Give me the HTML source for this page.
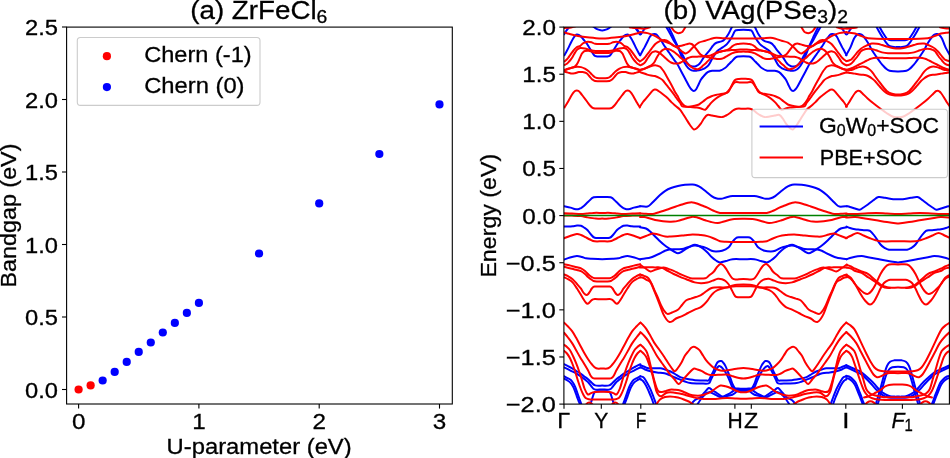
<!DOCTYPE html>
<html><head><meta charset="utf-8"><style>
html,body{margin:0;padding:0;background:#fff;width:950px;height:458px;overflow:hidden}
svg{display:block;will-change:transform}
text{font-family:"Liberation Sans",sans-serif;fill:#000;stroke:#000;stroke-width:0.3px}
</style></head><body>
<svg width="950" height="458" viewBox="0 0 950 458">
<rect width="950" height="458" fill="#fff"/>
<rect x="66.6" y="27.1" width="385.70" height="376.90" fill="none" stroke="#000" stroke-width="1.1"/>
<line x1="61.99999999999999" y1="389.50" x2="66.6" y2="389.50" stroke="#000" stroke-width="1.1"/>
<text x="25.04" y="397.50" font-size="22.3" textLength="32.96" lengthAdjust="spacingAndGlyphs">0.0</text>
<line x1="61.99999999999999" y1="317.00" x2="66.6" y2="317.00" stroke="#000" stroke-width="1.1"/>
<text x="25.04" y="325.00" font-size="22.3" textLength="32.96" lengthAdjust="spacingAndGlyphs">0.5</text>
<line x1="61.99999999999999" y1="244.50" x2="66.6" y2="244.50" stroke="#000" stroke-width="1.1"/>
<text x="25.04" y="252.50" font-size="22.3" textLength="32.96" lengthAdjust="spacingAndGlyphs">1.0</text>
<line x1="61.99999999999999" y1="172.00" x2="66.6" y2="172.00" stroke="#000" stroke-width="1.1"/>
<text x="25.04" y="180.00" font-size="22.3" textLength="32.96" lengthAdjust="spacingAndGlyphs">1.5</text>
<line x1="61.99999999999999" y1="99.50" x2="66.6" y2="99.50" stroke="#000" stroke-width="1.1"/>
<text x="25.04" y="107.50" font-size="22.3" textLength="32.96" lengthAdjust="spacingAndGlyphs">2.0</text>
<line x1="61.99999999999999" y1="27.00" x2="66.6" y2="27.00" stroke="#000" stroke-width="1.1"/>
<text x="25.04" y="35.00" font-size="22.3" textLength="32.96" lengthAdjust="spacingAndGlyphs">2.5</text>
<line x1="78.60" y1="404.0" x2="78.60" y2="408.6" stroke="#000" stroke-width="1.1"/>
<text x="71.91" y="428.50" font-size="22.3" textLength="13.47" lengthAdjust="spacingAndGlyphs">0</text>
<line x1="198.90" y1="404.0" x2="198.90" y2="408.6" stroke="#000" stroke-width="1.1"/>
<text x="192.21" y="428.50" font-size="22.3" textLength="13.47" lengthAdjust="spacingAndGlyphs">1</text>
<line x1="319.20" y1="404.0" x2="319.20" y2="408.6" stroke="#000" stroke-width="1.1"/>
<text x="312.51" y="428.50" font-size="22.3" textLength="13.47" lengthAdjust="spacingAndGlyphs">2</text>
<line x1="439.50" y1="404.0" x2="439.50" y2="408.6" stroke="#000" stroke-width="1.1"/>
<text x="432.81" y="428.50" font-size="22.3" textLength="13.47" lengthAdjust="spacingAndGlyphs">3</text>
<text x="166.63" y="453.80" font-size="22.3" textLength="185.03" lengthAdjust="spacingAndGlyphs">U-parameter (eV)</text>
<text transform="translate(16.2,287.43) rotate(-90)" x="0" y="0" font-size="22.3" textLength="143.83" lengthAdjust="spacingAndGlyphs">Bandgap (eV)</text>
<text x="190.28" y="19.00" font-size="26.6" textLength="137.09" lengthAdjust="spacingAndGlyphs">(a) ZrFeCl<tspan font-size="18.6" dy="4">6</tspan></text>
<circle cx="78.60" cy="389.50" r="4.1" fill="#ff0000"/>
<circle cx="90.63" cy="385.44" r="4.1" fill="#ff0000"/>
<circle cx="102.66" cy="380.51" r="4.1" fill="#0000ff"/>
<circle cx="114.69" cy="371.95" r="4.1" fill="#0000ff"/>
<circle cx="126.72" cy="361.95" r="4.1" fill="#0000ff"/>
<circle cx="138.75" cy="351.94" r="4.1" fill="#0000ff"/>
<circle cx="150.78" cy="342.52" r="4.1" fill="#0000ff"/>
<circle cx="162.81" cy="332.51" r="4.1" fill="#0000ff"/>
<circle cx="174.84" cy="322.94" r="4.1" fill="#0000ff"/>
<circle cx="186.87" cy="312.94" r="4.1" fill="#0000ff"/>
<circle cx="198.90" cy="302.94" r="4.1" fill="#0000ff"/>
<circle cx="259.05" cy="253.49" r="4.1" fill="#0000ff"/>
<circle cx="319.20" cy="203.47" r="4.1" fill="#0000ff"/>
<circle cx="379.35" cy="154.02" r="4.1" fill="#0000ff"/>
<circle cx="439.50" cy="104.43" r="4.1" fill="#0000ff"/>
<rect x="77.3" y="37.5" width="182.7" height="67.9" rx="3.1" ry="3.1" fill="#fff" fill-opacity="0.8" stroke="#cccccc" stroke-width="1.1"/>
<circle cx="106.9" cy="56.2" r="4.1" fill="#ff0000"/>
<circle cx="106.9" cy="87.1" r="4.1" fill="#0000ff"/>
<text x="144.18" y="62.00" font-size="22.3" textLength="107.46" lengthAdjust="spacingAndGlyphs">Chern (-1)</text>
<text x="144.17" y="92.80" font-size="22.3" textLength="100.36" lengthAdjust="spacingAndGlyphs">Chern (0)</text>
<defs><clipPath id="cp"><rect x="563.9" y="27.1" width="385.50" height="377.00"/></clipPath></defs>
<g clip-path="url(#cp)" fill="none" stroke-width="2" stroke-linejoin="round" stroke-linecap="round">
<path d="M564.4 55.2C564.75 54.58 565.77 52.85 566.5 51.5C567.23 50.15 568.05 48.6 568.8 47.1C569.55 45.6 570.25 43.97 571 42.5C571.75 41.03 572.6 39.45 573.3 38.3C574 37.15 574.58 36.22 575.2 35.6C575.82 34.98 576.1 34.52 577 34.6C577.9 34.68 579.52 35.28 580.6 36.1C581.68 36.92 582.52 38.33 583.5 39.5C584.48 40.67 585.33 41.42 586.5 43.1C587.67 44.78 589.18 47.53 590.5 49.6C591.82 51.67 593.32 54.37 594.4 55.5C595.48 56.63 596.13 56.22 597 56.4C597.87 56.58 598.73 56.57 599.6 56.6C600.47 56.63 601.33 56.6 602.2 56.6C603.07 56.6 603.93 56.63 604.8 56.6C605.67 56.57 606.53 56.58 607.4 56.4C608.27 56.22 608.92 56.63 610 55.5C611.08 54.37 612.58 51.67 613.9 49.6C615.22 47.53 616.73 44.78 617.9 43.1C619.07 41.42 619.92 40.67 620.9 39.5C621.88 38.33 622.72 36.92 623.8 36.1C624.88 35.28 626.5 34.68 627.4 34.6C628.3 34.52 628.58 34.98 629.2 35.6C629.82 36.22 630.4 37.15 631.1 38.3C631.8 39.45 632.65 41.03 633.4 42.5C634.15 43.97 634.85 45.6 635.6 47.1C636.35 48.6 637.17 50.15 637.9 51.5C638.63 52.85 639.65 54.58 640 55.2" stroke="#0000ff"/>
<path d="M564.2 34.2C564.58 33.58 565.62 31.78 566.5 30.5C567.38 29.22 569 27.17 569.5 26.5" stroke="#0000ff"/>
<path d="M640.2 34.2C639.82 33.58 638.78 31.78 637.9 30.5C637.02 29.22 635.4 27.17 634.9 26.5" stroke="#0000ff"/>
<path d="M593.2 26.5C593.83 26.95 595.65 28.55 597 29.2C598.35 29.85 600.43 30.2 601.3 30.4C602.17 30.6 601.9 30.4 602.2 30.4C602.5 30.4 602.23 30.6 603.1 30.4C603.97 30.2 606.05 29.85 607.4 29.2C608.75 28.55 610.57 26.95 611.2 26.5" stroke="#0000ff"/>
<path d="M564.2 206.2C565.25 206.43 568.78 207.13 570.5 207.6C572.22 208.07 573.27 208.72 574.5 209C575.73 209.28 576.9 209.42 577.9 209.3C578.9 209.18 579.62 208.75 580.5 208.3C581.38 207.85 581.87 207.73 583.2 206.6C584.53 205.47 586.75 203.05 588.5 201.5C590.25 199.95 591.42 198.03 593.7 197.3C595.98 196.57 599.37 197.1 602.2 197.1C605.03 197.1 608.42 196.57 610.7 197.3C612.98 198.03 614.15 199.95 615.9 201.5C617.65 203.05 619.87 205.47 621.2 206.6C622.53 207.73 623.02 207.85 623.9 208.3C624.78 208.75 625.5 209.18 626.5 209.3C627.5 209.42 628.67 209.28 629.9 209C631.13 208.72 632.18 208.07 633.9 207.6C635.62 207.13 639.15 206.43 640.2 206.2" stroke="#0000ff"/>
<path d="M564.2 226.6C564.83 226.6 566.6 226.65 568 226.6C569.4 226.55 571.1 226.48 572.6 226.3C574.1 226.12 575.6 225.58 577 225.5C578.4 225.42 579.83 225.47 581 225.8C582.17 226.13 582.93 226.8 584 227.5C585.07 228.2 586.23 228.83 587.4 230C588.57 231.17 589.78 233.22 591 234.5C592.22 235.78 592.83 237.13 594.7 237.7C596.57 238.27 599.7 237.9 602.2 237.9C604.7 237.9 607.83 238.27 609.7 237.7C611.57 237.13 612.18 235.78 613.4 234.5C614.62 233.22 615.83 231.17 617 230C618.17 228.83 619.33 228.2 620.4 227.5C621.47 226.8 622.23 226.13 623.4 225.8C624.57 225.47 626 225.42 627.4 225.5C628.8 225.58 630.3 226.12 631.8 226.3C633.3 226.48 635 226.55 636.4 226.6C637.8 226.65 639.57 226.6 640.2 226.6" stroke="#0000ff"/>
<path d="M564.2 259.6C565.17 259.25 567.9 258.08 570 257.5C572.1 256.92 574.8 256.18 576.8 256.1C578.8 256.02 580.47 256.63 582 257C583.53 257.37 584.4 258 586 258.3C587.6 258.6 588.9 258.65 591.6 258.8C594.3 258.95 598.67 259.2 602.2 259.2C605.73 259.2 610.1 258.95 612.8 258.8C615.5 258.65 616.8 258.6 618.4 258.3C620 258 620.87 257.37 622.4 257C623.93 256.63 625.6 256.02 627.6 256.1C629.6 256.18 632.3 256.92 634.4 257.5C636.5 258.08 639.23 259.25 640.2 259.6" stroke="#0000ff"/>
<path d="M564 364.2C564.67 364.53 566.65 365.52 568 366.2C569.35 366.88 570.77 367.53 572.1 368.3C573.43 369.07 574.67 369.97 576 370.8C577.33 371.63 578.77 372.4 580.1 373.3C581.43 374.2 582.67 375.2 584 376.2C585.33 377.2 586.85 378.25 588.1 379.3C589.35 380.35 590.32 381.48 591.5 382.5C592.68 383.52 593.42 384.88 595.2 385.4C596.98 385.92 599.87 385.6 602.2 385.6C604.53 385.6 607.42 385.92 609.2 385.4C610.98 384.88 611.72 383.52 612.9 382.5C614.08 381.48 615.05 380.35 616.3 379.3C617.55 378.25 619.07 377.2 620.4 376.2C621.73 375.2 622.97 374.2 624.3 373.3C625.63 372.4 627.07 371.63 628.4 370.8C629.73 369.97 630.97 369.07 632.3 368.3C633.63 367.53 635.05 366.88 636.4 366.2C637.75 365.52 639.73 364.53 640.4 364.2" stroke="#0000ff"/>
<path d="M564 367.3C565 367.8 567.98 369.3 570 370.3C572.02 371.3 574.1 372.15 576.1 373.3C578.1 374.45 580.35 376 582 377.2C583.65 378.4 584.93 379.62 586 380.5C587.07 381.38 587.48 381.5 588.4 382.5C589.32 383.5 590.47 385.35 591.5 386.5C592.53 387.65 592.82 388.9 594.6 389.4C596.38 389.9 599.67 389.5 602.2 389.5C604.73 389.5 608.02 389.9 609.8 389.4C611.58 388.9 611.87 387.65 612.9 386.5C613.93 385.35 615.08 383.5 616 382.5C616.92 381.5 617.33 381.38 618.4 380.5C619.47 379.62 620.75 378.4 622.4 377.2C624.05 376 626.3 374.45 628.3 373.3C630.3 372.15 632.38 371.3 634.4 370.3C636.42 369.3 639.4 367.8 640.4 367.3" stroke="#0000ff"/>
<path d="M564 376.2C564.5 376.47 565.85 377.17 567 377.8C568.15 378.43 569.82 379.05 570.9 380C571.98 380.95 572.75 382.25 573.5 383.5C574.25 384.75 574.78 386 575.4 387.5C576.02 389 576.65 390.95 577.2 392.5C577.75 394.05 578.2 395.38 578.7 396.8C579.2 398.22 579.72 399.63 580.2 401C580.68 402.37 581.37 404.33 581.6 405" stroke="#0000ff"/>
<path d="M640.4 376.2C639.9 376.47 638.55 377.17 637.4 377.8C636.25 378.43 634.58 379.05 633.5 380C632.42 380.95 631.65 382.25 630.9 383.5C630.15 384.75 629.62 386 629 387.5C628.38 389 627.75 390.95 627.2 392.5C626.65 394.05 626.2 395.38 625.7 396.8C625.2 398.22 624.68 399.63 624.2 401C623.72 402.37 623.03 404.33 622.8 405" stroke="#0000ff"/>
<path d="M564 378.6C564.5 378.87 565.95 379.53 567 380.2C568.05 380.87 569.35 381.63 570.3 382.6C571.25 383.57 572 384.8 572.7 386C573.4 387.2 573.92 388.38 574.5 389.8C575.08 391.22 575.68 393.05 576.2 394.5C576.72 395.95 577.13 397.25 577.6 398.5C578.07 399.75 578.57 400.92 579 402C579.43 403.08 580 404.5 580.2 405" stroke="#0000ff"/>
<path d="M640.4 378.6C639.9 378.87 638.45 379.53 637.4 380.2C636.35 380.87 635.05 381.63 634.1 382.6C633.15 383.57 632.4 384.8 631.7 386C631 387.2 630.48 388.38 629.9 389.8C629.32 391.22 628.72 393.05 628.2 394.5C627.68 395.95 627.27 397.25 626.8 398.5C626.33 399.75 625.83 400.92 625.4 402C624.97 403.08 624.4 404.5 624.2 405" stroke="#0000ff"/>
<path d="M590.3 405C590.5 404.33 591.05 402.5 591.5 401C591.95 399.5 592.58 397.28 593 396C593.42 394.72 593.58 394.03 594 393.3C594.42 392.57 594.83 391.93 595.5 391.6C596.17 391.27 596.88 391.35 598 391.3C599.12 391.25 600.8 391.3 602.2 391.3C603.6 391.3 605.28 391.25 606.4 391.3C607.52 391.35 608.23 391.27 608.9 391.6C609.57 391.93 609.98 392.57 610.4 393.3C610.82 394.03 610.98 394.72 611.4 396C611.82 397.28 612.45 399.5 612.9 401C613.35 402.5 613.9 404.33 614.1 405" stroke="#0000ff"/>
<path d="M640.3 55.2C640.67 54.5 641.77 52.35 642.5 51C643.23 49.65 643.87 48.68 644.7 47.1C645.53 45.52 646.63 43.22 647.5 41.5C648.37 39.78 649.15 37.95 649.9 36.8C650.65 35.65 651.27 35.05 652 34.6C652.73 34.15 653.55 34.12 654.3 34.1C655.05 34.08 655.8 34.02 656.5 34.5C657.2 34.98 657.77 36.08 658.5 37C659.23 37.92 660.07 38.75 660.9 40C661.73 41.25 662.58 43.05 663.5 44.5C664.42 45.95 665.48 47.37 666.4 48.7C667.32 50.03 668.1 51.22 669 52.5C669.9 53.78 670.88 55.1 671.8 56.4C672.72 57.7 673.58 59.03 674.5 60.3C675.42 61.57 676.22 62.22 677.3 64C678.38 65.78 679.67 68.5 681 71C682.33 73.5 683.97 76.5 685.3 79C686.63 81.5 687.97 84.25 689 86C690.03 87.75 690.72 88.67 691.5 89.5C692.28 90.33 692.95 91 693.7 91C694.45 91 695.15 90.67 696 89.5C696.85 88.33 697.97 85.67 698.8 84C699.63 82.33 700.25 80.73 701 79.5C701.75 78.27 702.18 77.82 703.3 76.6C704.42 75.38 706.23 73.18 707.7 72.2C709.17 71.22 710.13 70.95 712.1 70.7C714.07 70.45 717.28 71.2 719.5 70.7C721.72 70.2 723.9 68.73 725.4 67.7C726.9 66.67 727.52 65.48 728.5 64.5C729.48 63.52 730.1 62.98 731.3 61.8C732.5 60.62 734.43 58.28 735.7 57.4C736.97 56.52 737.62 56.68 738.9 56.5C740.18 56.32 741.9 56.3 743.4 56.3C744.9 56.3 746.62 56.32 747.9 56.5C749.18 56.68 749.83 56.52 751.1 57.4C752.37 58.28 754.3 60.62 755.5 61.8C756.7 62.98 757.32 63.52 758.3 64.5C759.28 65.48 759.9 66.67 761.4 67.7C762.9 68.73 765.08 70.2 767.3 70.7C769.52 71.2 772.73 70.45 774.7 70.7C776.67 70.95 777.63 71.22 779.1 72.2C780.57 73.18 782.38 75.38 783.5 76.6C784.62 77.82 785.05 78.27 785.8 79.5C786.55 80.73 787.17 82.33 788 84C788.83 85.67 789.95 88.33 790.8 89.5C791.65 90.67 792.35 91 793.1 91C793.85 91 794.52 90.33 795.3 89.5C796.08 88.67 796.77 87.75 797.8 86C798.83 84.25 800.17 81.5 801.5 79C802.83 76.5 804.47 73.5 805.8 71C807.13 68.5 808.42 65.78 809.5 64C810.58 62.22 811.38 61.57 812.3 60.3C813.22 59.03 814.08 57.7 815 56.4C815.92 55.1 816.9 53.78 817.8 52.5C818.7 51.22 819.48 50.03 820.4 48.7C821.32 47.37 822.38 45.95 823.3 44.5C824.22 43.05 825.07 41.25 825.9 40C826.73 38.75 827.57 37.92 828.3 37C829.03 36.08 829.6 34.98 830.3 34.5C831 34.02 831.75 34.08 832.5 34.1C833.25 34.12 834.07 34.15 834.8 34.6C835.53 35.05 836.15 35.65 836.9 36.8C837.65 37.95 838.43 39.78 839.3 41.5C840.17 43.22 841.27 45.52 842.1 47.1C842.93 48.68 843.57 49.65 844.3 51C845.03 52.35 846.13 54.5 846.5 55.2" stroke="#0000ff"/>
<path d="M666 26.5C666.67 27.67 668.67 31.07 670 33.5C671.33 35.93 672.6 38.75 674 41.1C675.4 43.45 676.95 45.23 678.4 47.6C679.85 49.97 681.25 52.75 682.7 55.3C684.15 57.85 685.97 61.23 687.1 62.9C688.23 64.57 688.77 64.75 689.5 65.3C690.23 65.85 690.8 66 691.5 66.2C692.2 66.4 692.98 66.5 693.7 66.5C694.42 66.5 695.08 66.45 695.8 66.2C696.52 65.95 697.27 65.55 698 65C698.73 64.45 699.12 64.33 700.2 62.9C701.28 61.47 702.87 58.58 704.5 56.4C706.13 54.22 708.63 51.53 710 49.8C711.37 48.07 711.7 47.13 712.7 46C713.7 44.87 714.53 43.77 716 43C717.47 42.23 720.05 42.03 721.5 41.4C722.95 40.77 723.62 40.3 724.7 39.2C725.78 38.1 726.9 36.62 728 34.8C729.1 32.98 730.57 29.68 731.3 28.3C732.03 26.92 732.22 26.8 732.4 26.5" stroke="#0000ff"/>
<path d="M820.8 26.5C820.13 27.67 818.13 31.07 816.8 33.5C815.47 35.93 814.2 38.75 812.8 41.1C811.4 43.45 809.85 45.23 808.4 47.6C806.95 49.97 805.55 52.75 804.1 55.3C802.65 57.85 800.83 61.23 799.7 62.9C798.57 64.57 798.03 64.75 797.3 65.3C796.57 65.85 796 66 795.3 66.2C794.6 66.4 793.82 66.5 793.1 66.5C792.38 66.5 791.72 66.45 791 66.2C790.28 65.95 789.53 65.55 788.8 65C788.07 64.45 787.68 64.33 786.6 62.9C785.52 61.47 783.93 58.58 782.3 56.4C780.67 54.22 778.17 51.53 776.8 49.8C775.43 48.07 775.1 47.13 774.1 46C773.1 44.87 772.27 43.77 770.8 43C769.33 42.23 766.75 42.03 765.3 41.4C763.85 40.77 763.18 40.3 762.1 39.2C761.02 38.1 759.9 36.62 758.8 34.8C757.7 32.98 756.23 29.68 755.5 28.3C754.77 26.92 754.58 26.8 754.4 26.5" stroke="#0000ff"/>
<path d="M668.5 26.5C669.25 28.08 671.5 32.75 673 36C674.5 39.25 675.97 42.33 677.5 46C679.03 49.67 680.7 54.67 682.2 58C683.7 61.33 685.2 64.08 686.5 66C687.8 67.92 688.8 68.7 690 69.5C691.2 70.3 692.53 70.62 693.7 70.8C694.87 70.98 695.78 70.77 697 70.6C698.22 70.43 699.83 70.12 701 69.8C702.17 69.48 702.77 69.43 704 68.7C705.23 67.97 706.95 67.23 708.4 65.4C709.85 63.57 711.25 60.07 712.7 57.7C714.15 55.33 715.45 52.92 717.1 51.2C718.75 49.48 720.97 48.58 722.6 47.4C724.23 46.22 725.45 45.65 726.9 44.1C728.35 42.55 730.02 40.2 731.3 38.1C732.58 36 733.73 32.82 734.6 31.5C735.47 30.18 735.78 30.47 736.5 30.2C737.22 29.93 737.75 29.98 738.9 29.9C740.05 29.82 741.9 29.7 743.4 29.7C744.9 29.7 746.75 29.82 747.9 29.9C749.05 29.98 749.58 29.93 750.3 30.2C751.02 30.47 751.33 30.18 752.2 31.5C753.07 32.82 754.22 36 755.5 38.1C756.78 40.2 758.45 42.55 759.9 44.1C761.35 45.65 762.57 46.22 764.2 47.4C765.83 48.58 768.05 49.48 769.7 51.2C771.35 52.92 772.65 55.33 774.1 57.7C775.55 60.07 776.95 63.57 778.4 65.4C779.85 67.23 781.57 67.97 782.8 68.7C784.03 69.43 784.63 69.48 785.8 69.8C786.97 70.12 788.58 70.43 789.8 70.6C791.02 70.77 791.93 70.98 793.1 70.8C794.27 70.62 795.6 70.3 796.8 69.5C798 68.7 799 67.92 800.3 66C801.6 64.08 803.1 61.33 804.6 58C806.1 54.67 807.77 49.67 809.3 46C810.83 42.33 812.3 39.25 813.8 36C815.3 32.75 817.55 28.08 818.3 26.5" stroke="#0000ff"/>
<path d="M634.4 26.5C634.92 27.25 636.52 29.65 637.5 31C638.48 32.35 639.38 34.6 640.3 34.6C641.22 34.6 642.02 32.35 643 31C643.98 29.65 645.67 27.25 646.2 26.5" stroke="#0000ff"/>
<path d="M852.4 26.5C851.88 27.25 850.28 29.65 849.3 31C848.32 32.35 847.42 34.6 846.5 34.6C845.58 34.6 844.78 32.35 843.8 31C842.82 29.65 841.13 27.25 840.6 26.5" stroke="#0000ff"/>
<path d="M640 206.2C641.23 206.27 645.57 206.97 647.4 206.6C649.23 206.23 649.78 205.05 651 204C652.22 202.95 653.2 201.8 654.7 200.3C656.2 198.8 658.23 196.58 660 195C661.77 193.42 663.47 191.97 665.3 190.8C667.13 189.63 668.9 188.8 671 188C673.1 187.2 675.57 186.53 677.9 186C680.23 185.47 682.55 185.05 685 184.8C687.45 184.55 690.6 184.38 692.6 184.5C694.6 184.62 695.6 184.98 697 185.5C698.4 186.02 699.5 186.6 701 187.6C702.5 188.6 704.23 190.08 706 191.5C707.77 192.92 709.93 194.97 711.6 196.1C713.27 197.23 714.42 197.85 716 198.3C717.58 198.75 719.43 198.93 721.1 198.8C722.77 198.67 724.08 197.95 726 197.5C727.92 197.05 729.7 196.33 732.6 196.1C735.5 195.87 739.8 196.1 743.4 196.1C747 196.1 751.3 195.87 754.2 196.1C757.1 196.33 758.88 197.05 760.8 197.5C762.72 197.95 764.03 198.67 765.7 198.8C767.37 198.93 769.22 198.75 770.8 198.3C772.38 197.85 773.53 197.23 775.2 196.1C776.87 194.97 779.03 192.92 780.8 191.5C782.57 190.08 784.3 188.6 785.8 187.6C787.3 186.6 788.4 186.02 789.8 185.5C791.2 184.98 792.2 184.62 794.2 184.5C796.2 184.38 799.35 184.55 801.8 184.8C804.25 185.05 806.57 185.47 808.9 186C811.23 186.53 813.7 187.2 815.8 188C817.9 188.8 819.67 189.63 821.5 190.8C823.33 191.97 825.03 193.42 826.8 195C828.57 196.58 830.6 198.8 832.1 200.3C833.6 201.8 834.58 202.95 835.8 204C837.02 205.05 837.57 206.23 839.4 206.6C841.23 206.97 845.57 206.27 846.8 206.2" stroke="#0000ff"/>
<path d="M640 227.2C641 227.42 644.25 227.73 646 228.5C647.75 229.27 649.05 230.55 650.5 231.8C651.95 233.05 653.3 234.58 654.7 236C656.1 237.42 657.35 238.83 658.9 240.3C660.45 241.77 662.23 243.4 664 244.8C665.77 246.2 667.83 247.58 669.5 248.7C671.17 249.82 672.6 250.73 674 251.5C675.4 252.27 676.57 253.3 677.9 253.3C679.23 253.3 680.6 252.27 682 251.5C683.4 250.73 684.88 249.57 686.3 248.7C687.72 247.83 689.1 246.95 690.5 246.3C691.9 245.65 693.28 244.85 694.7 244.8C696.12 244.75 697.58 245.35 699 246C700.42 246.65 701.78 247.62 703.2 248.7C704.62 249.78 706.1 251.1 707.5 252.5C708.9 253.9 710.18 255.77 711.6 257.1C713.02 258.43 714.6 259.62 716 260.5C717.4 261.38 718.33 262.32 720 262.4C721.67 262.48 723.9 261.53 726 261C728.1 260.47 729.7 259.5 732.6 259.2C735.5 258.9 739.8 259.2 743.4 259.2C747 259.2 751.3 258.9 754.2 259.2C757.1 259.5 758.7 260.47 760.8 261C762.9 261.53 765.13 262.48 766.8 262.4C768.47 262.32 769.4 261.38 770.8 260.5C772.2 259.62 773.78 258.43 775.2 257.1C776.62 255.77 777.9 253.9 779.3 252.5C780.7 251.1 782.18 249.78 783.6 248.7C785.02 247.62 786.38 246.65 787.8 246C789.22 245.35 790.68 244.75 792.1 244.8C793.52 244.85 794.9 245.65 796.3 246.3C797.7 246.95 799.08 247.83 800.5 248.7C801.92 249.57 803.4 250.73 804.8 251.5C806.2 252.27 807.57 253.3 808.9 253.3C810.23 253.3 811.4 252.27 812.8 251.5C814.2 250.73 815.63 249.82 817.3 248.7C818.97 247.58 821.03 246.2 822.8 244.8C824.57 243.4 826.35 241.77 827.9 240.3C829.45 238.83 830.7 237.42 832.1 236C833.5 234.58 834.85 233.05 836.3 231.8C837.75 230.55 839.05 229.27 840.8 228.5C842.55 227.73 845.8 227.42 846.8 227.2" stroke="#0000ff"/>
<path d="M640 259.2C640.83 259.08 643.25 258.78 645 258.5C646.75 258.22 648.75 258 650.5 257.5C652.25 257 653.73 256.27 655.5 255.5C657.27 254.73 659.52 253.68 661.1 252.9C662.68 252.12 663.6 251.37 665 250.8C666.4 250.23 667.83 249.77 669.5 249.5C671.17 249.23 672.9 249.27 675 249.2C677.1 249.13 679.93 249.43 682.1 249.1C684.27 248.77 685.9 247.8 688 247.2C690.1 246.6 692.7 245.65 694.7 245.5C696.7 245.35 698.23 245.95 700 246.3C701.77 246.65 703.37 246.85 705.3 247.6C707.23 248.35 709.82 250.15 711.6 250.8C713.38 251.45 714.25 251.5 716 251.5C717.75 251.5 720.03 251.45 722.1 250.8C724.17 250.15 726.75 248.98 728.4 247.6C730.05 246.22 730.77 244.07 732 242.5C733.23 240.93 734.55 239.07 735.8 238.2C737.05 237.33 738.23 237.45 739.5 237.3C740.77 237.15 742.1 237.3 743.4 237.3C744.7 237.3 746.03 237.15 747.3 237.3C748.57 237.45 749.75 237.33 751 238.2C752.25 239.07 753.57 240.93 754.8 242.5C756.03 244.07 756.75 246.22 758.4 247.6C760.05 248.98 762.63 250.15 764.7 250.8C766.77 251.45 769.05 251.5 770.8 251.5C772.55 251.5 773.42 251.45 775.2 250.8C776.98 250.15 779.57 248.35 781.5 247.6C783.43 246.85 785.03 246.65 786.8 246.3C788.57 245.95 790.1 245.35 792.1 245.5C794.1 245.65 796.7 246.6 798.8 247.2C800.9 247.8 802.53 248.77 804.7 249.1C806.87 249.43 809.7 249.13 811.8 249.2C813.9 249.27 815.63 249.23 817.3 249.5C818.97 249.77 820.4 250.23 821.8 250.8C823.2 251.37 824.12 252.12 825.7 252.9C827.28 253.68 829.53 254.73 831.3 255.5C833.07 256.27 834.55 257 836.3 257.5C838.05 258 840.05 258.22 841.8 258.5C843.55 258.78 845.97 259.08 846.8 259.2" stroke="#0000ff"/>
<path d="M640.4 365.3C641.07 365.55 643.07 366.3 644.4 366.8C645.73 367.3 646.8 368.05 648.4 368.3C650 368.55 651.98 368.3 654 368.3C656.02 368.3 658.67 368.1 660.5 368.3C662.33 368.5 663.32 368.97 665 369.5C666.68 370.03 668.93 370.75 670.6 371.5C672.27 372.25 673.4 373.07 675 374C676.6 374.93 678.53 376.35 680.2 377.1C681.87 377.85 683.32 378.08 685 378.5C686.68 378.92 688.63 379.32 690.3 379.6C691.97 379.88 693.33 380.07 695 380.2C696.67 380.33 698.63 380.37 700.3 380.4C701.97 380.43 703.6 380.4 705 380.4C706.4 380.4 707.7 381.13 708.7 380.4C709.7 379.67 710.15 377.68 711 376C711.85 374.32 712.97 372.13 713.8 370.3C714.63 368.47 715.3 366.4 716 365C716.7 363.6 717.12 362.55 718 361.9C718.88 361.25 720.38 360.92 721.3 361.1C722.22 361.28 722.8 362.17 723.5 363C724.2 363.83 724.75 364.6 725.5 366.1C726.25 367.6 727.15 369.9 728 372C728.85 374.1 729.85 376.7 730.6 378.7C731.35 380.7 731.8 382.45 732.5 384C733.2 385.55 733.88 387.23 734.8 388C735.72 388.77 736.57 388.47 738 388.6C739.43 388.73 741.6 388.8 743.4 388.8C745.2 388.8 747.37 388.73 748.8 388.6C750.23 388.47 751.08 388.77 752 388C752.92 387.23 753.6 385.55 754.3 384C755 382.45 755.45 380.7 756.2 378.7C756.95 376.7 757.95 374.1 758.8 372C759.65 369.9 760.55 367.6 761.3 366.1C762.05 364.6 762.6 363.83 763.3 363C764 362.17 764.58 361.28 765.5 361.1C766.42 360.92 767.92 361.25 768.8 361.9C769.68 362.55 770.1 363.6 770.8 365C771.5 366.4 772.17 368.47 773 370.3C773.83 372.13 774.95 374.32 775.8 376C776.65 377.68 777.1 379.67 778.1 380.4C779.1 381.13 780.4 380.4 781.8 380.4C783.2 380.4 784.83 380.43 786.5 380.4C788.17 380.37 790.13 380.33 791.8 380.2C793.47 380.07 794.83 379.88 796.5 379.6C798.17 379.32 800.12 378.92 801.8 378.5C803.48 378.08 804.93 377.85 806.6 377.1C808.27 376.35 810.2 374.93 811.8 374C813.4 373.07 814.53 372.25 816.2 371.5C817.87 370.75 820.12 370.03 821.8 369.5C823.48 368.97 824.47 368.5 826.3 368.3C828.13 368.1 830.78 368.3 832.8 368.3C834.82 368.3 836.8 368.55 838.4 368.3C840 368.05 841.07 367.3 842.4 366.8C843.73 366.3 845.73 365.55 846.4 365.3" stroke="#0000ff"/>
<path d="M640.4 367.3C641.17 367.67 643.32 368.83 645 369.5C646.68 370.17 648.5 370.8 650.5 371.3C652.5 371.8 654.67 372.17 657 372.5C659.33 372.83 662.32 372.82 664.5 373.3C666.68 373.78 668.35 374.7 670.1 375.4C671.85 376.1 673.32 376.8 675 377.5C676.68 378.2 678.53 378.93 680.2 379.6C681.87 380.27 683.32 380.95 685 381.5C686.68 382.05 687.75 382.58 690.3 382.9C692.85 383.22 697.23 383.32 700.3 383.4C703.37 383.48 706.92 384.05 708.7 383.4C710.48 382.75 710.15 381.12 711 379.5C711.85 377.88 712.97 375.37 713.8 373.7C714.63 372.03 715.17 370.77 716 369.5C716.83 368.23 718.05 366.6 718.8 366.1C719.55 365.6 719.93 366.22 720.5 366.5C721.07 366.78 721.45 366.97 722.2 367.8C722.95 368.63 724.17 370.23 725 371.5C725.83 372.77 726.37 373.73 727.2 375.4C728.03 377.07 729.15 379.55 730 381.5C730.85 383.45 731.47 385.8 732.3 387.1C733.13 388.4 734.17 388.87 735 389.3C735.83 389.73 735.9 389.5 737.3 389.7C738.7 389.9 741.37 390.5 743.4 390.5C745.43 390.5 748.1 389.9 749.5 389.7C750.9 389.5 750.97 389.73 751.8 389.3C752.63 388.87 753.67 388.4 754.5 387.1C755.33 385.8 755.95 383.45 756.8 381.5C757.65 379.55 758.77 377.07 759.6 375.4C760.43 373.73 760.97 372.77 761.8 371.5C762.63 370.23 763.85 368.63 764.6 367.8C765.35 366.97 765.73 366.78 766.3 366.5C766.87 366.22 767.25 365.6 768 366.1C768.75 366.6 769.97 368.23 770.8 369.5C771.63 370.77 772.17 372.03 773 373.7C773.83 375.37 774.95 377.88 775.8 379.5C776.65 381.12 776.32 382.75 778.1 383.4C779.88 384.05 783.43 383.48 786.5 383.4C789.57 383.32 793.95 383.22 796.5 382.9C799.05 382.58 800.12 382.05 801.8 381.5C803.48 380.95 804.93 380.27 806.6 379.6C808.27 378.93 810.12 378.2 811.8 377.5C813.48 376.8 814.95 376.1 816.7 375.4C818.45 374.7 820.12 373.78 822.3 373.3C824.48 372.82 827.47 372.83 829.8 372.5C832.13 372.17 834.3 371.8 836.3 371.3C838.3 370.8 840.12 370.17 841.8 369.5C843.48 368.83 845.63 367.67 846.4 367.3" stroke="#0000ff"/>
<path d="M640.4 376.3C640.75 376.38 641.83 376.47 642.5 376.8C643.17 377.13 643.57 377.18 644.4 378.3C645.23 379.42 646.48 381.65 647.5 383.5C648.52 385.35 649.5 387.15 650.5 389.4C651.5 391.65 652.5 394.4 653.5 397C654.5 399.6 656 403.67 656.5 405" stroke="#0000ff"/>
<path d="M846.4 376.3C846.05 376.38 844.97 376.47 844.3 376.8C843.63 377.13 843.23 377.18 842.4 378.3C841.57 379.42 840.32 381.65 839.3 383.5C838.28 385.35 837.3 387.15 836.3 389.4C835.3 391.65 834.3 394.4 833.3 397C832.3 399.6 830.8 403.67 830.3 405" stroke="#0000ff"/>
<path d="M640.4 379.3C640.83 379.58 642.07 379.97 643 381C643.93 382.03 645 383.67 646 385.5C647 387.33 648.08 389.92 649 392C649.92 394.08 650.67 395.83 651.5 398C652.33 400.17 653.58 403.83 654 405" stroke="#0000ff"/>
<path d="M846.4 379.3C845.97 379.58 844.73 379.97 843.8 381C842.87 382.03 841.8 383.67 840.8 385.5C839.8 387.33 838.72 389.92 837.8 392C836.88 394.08 836.13 395.83 835.3 398C834.47 400.17 833.22 403.83 832.8 405" stroke="#0000ff"/>
<path d="M690.3 405C691.08 404.17 693.33 401.3 695 400C696.67 398.7 698.72 398.45 700.3 397.2C701.88 395.95 703.1 394.03 704.5 392.5C705.9 390.97 707.45 388.42 708.7 388C709.95 387.58 710.87 389.3 712 390C713.13 390.7 714.33 391.45 715.5 392.2C716.67 392.95 717.88 393.8 719 394.5C720.12 395.2 721.12 396.23 722.2 396.4C723.28 396.57 724.38 395.92 725.5 395.5C726.62 395.08 727.82 394.52 728.9 393.9C729.98 393.28 730.88 392.5 732 391.8C733.12 391.1 734.27 390.08 735.6 389.7C736.93 389.32 738.7 389.53 740 389.5C741.3 389.47 742.27 389.5 743.4 389.5C744.53 389.5 745.5 389.47 746.8 389.5C748.1 389.53 749.87 389.32 751.2 389.7C752.53 390.08 753.68 391.1 754.8 391.8C755.92 392.5 756.82 393.28 757.9 393.9C758.98 394.52 760.18 395.08 761.3 395.5C762.42 395.92 763.52 396.57 764.6 396.4C765.68 396.23 766.68 395.2 767.8 394.5C768.92 393.8 770.13 392.95 771.3 392.2C772.47 391.45 773.67 390.7 774.8 390C775.93 389.3 776.85 387.58 778.1 388C779.35 388.42 780.9 390.97 782.3 392.5C783.7 394.03 784.92 395.95 786.5 397.2C788.08 398.45 790.13 398.7 791.8 400C793.47 401.3 795.72 404.17 796.5 405" stroke="#0000ff"/>
<path d="M697 405C697.67 404 699.6 400.85 701 399C702.4 397.15 704.23 394.98 705.4 393.9C706.57 392.82 707.17 392.78 708 392.5C708.83 392.22 709.23 391.87 710.4 392.2C711.57 392.53 713.32 393.67 715 394.5C716.68 395.33 718.67 396.92 720.5 397.2C722.33 397.48 724.03 396.62 726 396.2C727.97 395.78 730.8 395.23 732.3 394.7C733.8 394.17 734.17 393.57 735 393C735.83 392.43 735.9 391.63 737.3 391.3C738.7 390.97 741.37 391 743.4 391C745.43 391 748.1 390.97 749.5 391.3C750.9 391.63 750.97 392.43 751.8 393C752.63 393.57 753 394.17 754.5 394.7C756 395.23 758.83 395.78 760.8 396.2C762.77 396.62 764.47 397.48 766.3 397.2C768.13 396.92 770.12 395.33 771.8 394.5C773.48 393.67 775.23 392.53 776.4 392.2C777.57 391.87 777.97 392.22 778.8 392.5C779.63 392.78 780.23 392.82 781.4 393.9C782.57 394.98 784.4 397.15 785.8 399C787.2 400.85 789.13 404 789.8 405" stroke="#0000ff"/>
<path d="M846.1 55.2C846.72 54.1 848.82 50.55 849.8 48.6C850.78 46.65 851.27 45.22 852 43.5C852.73 41.78 853.45 39.67 854.2 38.3C854.95 36.93 855.77 36 856.5 35.3C857.23 34.6 857.75 34.22 858.6 34.1C859.45 33.98 860.7 34.12 861.6 34.6C862.5 35.08 863.27 36.15 864 37C864.73 37.85 865.17 38.45 866 39.7C866.83 40.95 868.02 42.78 869 44.5C869.98 46.22 870.93 48.33 871.9 50C872.87 51.67 873.82 53.02 874.8 54.5C875.78 55.98 876.8 57.48 877.8 58.9C878.8 60.32 879.82 61.77 880.8 63C881.78 64.23 882.75 65.3 883.7 66.3C884.65 67.3 885.52 68.27 886.5 69C887.48 69.73 888.35 70.32 889.6 70.7C890.85 71.08 892.6 71.18 894 71.3C895.4 71.42 896.67 71.4 898 71.4C899.33 71.4 900.6 71.42 902 71.3C903.4 71.18 905.15 71.08 906.4 70.7C907.65 70.32 908.52 69.73 909.5 69C910.48 68.27 911.35 67.3 912.3 66.3C913.25 65.3 914.22 64.23 915.2 63C916.18 61.77 917.2 60.32 918.2 58.9C919.2 57.48 920.22 55.98 921.2 54.5C922.18 53.02 923.13 51.67 924.1 50C925.07 48.33 926.02 46.22 927 44.5C927.98 42.78 929.17 40.95 930 39.7C930.83 38.45 931.27 37.85 932 37C932.73 36.15 933.5 35.08 934.4 34.6C935.3 34.12 936.55 33.98 937.4 34.1C938.25 34.22 938.77 34.6 939.5 35.3C940.23 36 941.05 36.93 941.8 38.3C942.55 39.67 943.27 41.78 944 43.5C944.73 45.22 945.22 46.65 946.2 48.6C947.18 50.55 949.28 54.1 949.9 55.2" stroke="#0000ff"/>
<path d="M879.3 26.5C879.92 27.58 881.78 31.03 883 33C884.22 34.97 885.6 37.17 886.6 38.3C887.6 39.43 888.27 39.48 889 39.8C889.73 40.12 889.5 40.12 891 40.2C892.5 40.28 895.67 40.3 898 40.3C900.33 40.3 903.5 40.28 905 40.2C906.5 40.12 906.27 40.12 907 39.8C907.73 39.48 908.4 39.43 909.4 38.3C910.4 37.17 911.78 34.97 913 33C914.22 31.03 916.08 27.58 916.7 26.5" stroke="#0000ff"/>
<path d="M876.3 26.5C876.75 27.33 878.02 29.78 879 31.5C879.98 33.22 881.2 35.22 882.2 36.8C883.2 38.38 884.02 39.65 885 41C885.98 42.35 887.1 43.98 888.1 44.9C889.1 45.82 890.02 46.13 891 46.5C891.98 46.87 892.83 47 894 47.1C895.17 47.2 896.67 47.1 898 47.1C899.33 47.1 900.83 47.2 902 47.1C903.17 47 904.02 46.87 905 46.5C905.98 46.13 906.9 45.82 907.9 44.9C908.9 43.98 910.02 42.35 911 41C911.98 39.65 912.8 38.38 913.8 36.8C914.8 35.22 916.02 33.22 917 31.5C917.98 29.78 919.25 27.33 919.7 26.5" stroke="#0000ff"/>
<path d="M846.8 206.2C847.33 206.33 848.63 206.62 850 207C851.37 207.38 853.42 208.05 855 208.5C856.58 208.95 858.08 209.87 859.5 209.7C860.92 209.53 862.1 208.37 863.5 207.5C864.9 206.63 866.32 205.67 867.9 204.5C869.48 203.33 871.25 201.73 873 200.5C874.75 199.27 876.4 197.55 878.4 197.1C880.4 196.65 882.53 197.45 885 197.8C887.47 198.15 891.03 198.97 893.2 199.2C895.37 199.43 896.4 199.2 898 199.2C899.6 199.2 900.63 199.43 902.8 199.2C904.97 198.97 908.53 198.15 911 197.8C913.47 197.45 915.6 196.65 917.6 197.1C919.6 197.55 921.25 199.27 923 200.5C924.75 201.73 926.52 203.33 928.1 204.5C929.68 205.67 931.1 206.63 932.5 207.5C933.9 208.37 935.08 209.53 936.5 209.7C937.92 209.87 939.42 208.95 941 208.5C942.58 208.05 944.63 207.38 946 207C947.37 206.62 948.67 206.33 949.2 206.2" stroke="#0000ff"/>
<path d="M846.5 226.6C847.08 226.83 848.58 227.57 850 228C851.42 228.43 853.42 228.92 855 229.2C856.58 229.48 857.83 229.53 859.5 229.7C861.17 229.87 863.25 230.02 865 230.2C866.75 230.38 868.33 229.75 870 230.8C871.67 231.85 873.25 234.22 875 236.5C876.75 238.78 878.92 242.62 880.5 244.5C882.08 246.38 883.1 246.93 884.5 247.8C885.9 248.67 886.65 249.38 888.9 249.7C891.15 250.02 894.97 249.7 898 249.7C901.03 249.7 904.85 250.02 907.1 249.7C909.35 249.38 910.1 248.67 911.5 247.8C912.9 246.93 913.92 246.38 915.5 244.5C917.08 242.62 919.25 238.78 921 236.5C922.75 234.22 924.33 231.85 926 230.8C927.67 229.75 929.25 230.38 931 230.2C932.75 230.02 934.83 229.87 936.5 229.7C938.17 229.53 939.42 229.48 941 229.2C942.58 228.92 944.58 228.43 946 228C947.42 227.57 948.92 226.83 949.5 226.6" stroke="#0000ff"/>
<path d="M846.5 259.2C847.42 258.92 849.48 258.02 852 257.5C854.52 256.98 858.93 256.13 861.6 256.1C864.27 256.07 865.55 256.85 868 257.3C870.45 257.75 873.13 258.22 876.3 258.8C879.47 259.38 883.48 260.2 887 260.8C890.52 261.4 895.57 262.13 897.4 262.4C899.23 262.67 897.8 262.4 898 262.4C898.2 262.4 896.77 262.67 898.6 262.4C900.43 262.13 905.48 261.4 909 260.8C912.52 260.2 916.53 259.38 919.7 258.8C922.87 258.22 925.55 257.75 928 257.3C930.45 256.85 931.73 256.07 934.4 256.1C937.07 256.13 941.48 256.98 944 257.5C946.52 258.02 948.58 258.92 949.5 259.2" stroke="#0000ff"/>
<path d="M846.2 365.2C847 365.58 849.32 366.73 851 367.5C852.68 368.27 854.62 369.05 856.3 369.8C857.98 370.55 859.4 370.88 861.1 372C862.8 373.12 864.63 374.88 866.5 376.5C868.37 378.12 870.63 380.03 872.3 381.7C873.97 383.37 875.2 385.02 876.5 386.5C877.8 387.98 878.93 389.48 880.1 390.6C881.27 391.72 882.4 392.47 883.5 393.2C884.6 393.93 885.62 394.5 886.7 395C887.78 395.5 888.7 395.93 890 396.2C891.3 396.47 893.17 396.53 894.5 396.6C895.83 396.67 896.83 396.6 898 396.6C899.17 396.6 900.17 396.67 901.5 396.6C902.83 396.53 904.7 396.47 906 396.2C907.3 395.93 908.22 395.5 909.3 395C910.38 394.5 911.4 393.93 912.5 393.2C913.6 392.47 914.73 391.72 915.9 390.6C917.07 389.48 918.2 387.98 919.5 386.5C920.8 385.02 922.03 383.37 923.7 381.7C925.37 380.03 927.63 378.12 929.5 376.5C931.37 374.88 933.2 373.12 934.9 372C936.6 370.88 938.02 370.55 939.7 369.8C941.38 369.05 943.32 368.27 945 367.5C946.68 366.73 949 365.58 949.8 365.2" stroke="#0000ff"/>
<path d="M846.2 367.2C847.17 367.63 850.28 369 852 369.8C853.72 370.6 854.98 371.27 856.5 372C858.02 372.73 859.43 373.03 861.1 374.2C862.77 375.37 864.63 377.18 866.5 379C868.37 380.82 870.63 383.3 872.3 385.1C873.97 386.9 875.02 388.32 876.5 389.8C877.98 391.28 879.78 392.92 881.2 394C882.62 395.08 883.7 395.73 885 396.3C886.3 396.87 887.5 397.15 889 397.4C890.5 397.65 892.5 397.73 894 397.8C895.5 397.87 896.67 397.8 898 397.8C899.33 397.8 900.5 397.87 902 397.8C903.5 397.73 905.5 397.65 907 397.4C908.5 397.15 909.7 396.87 911 396.3C912.3 395.73 913.38 395.08 914.8 394C916.22 392.92 918.02 391.28 919.5 389.8C920.98 388.32 922.03 386.9 923.7 385.1C925.37 383.3 927.63 380.82 929.5 379C931.37 377.18 933.23 375.37 934.9 374.2C936.57 373.03 937.98 372.73 939.5 372C941.02 371.27 942.28 370.6 944 369.8C945.72 369 948.83 367.63 949.8 367.2" stroke="#0000ff"/>
<path d="M846.2 375.8C846.67 375.92 848.03 376.05 849 376.5C849.97 376.95 850.9 377.5 852 378.5C853.1 379.5 854.45 380.53 855.6 382.5C856.75 384.47 858 388.13 858.9 390.3C859.8 392.47 860.4 393.88 861 395.5C861.6 397.12 861.92 398.42 862.5 400C863.08 401.58 864.17 404.17 864.5 405" stroke="#0000ff"/>
<path d="M949.8 375.8C949.33 375.92 947.97 376.05 947 376.5C946.03 376.95 945.1 377.5 944 378.5C942.9 379.5 941.55 380.53 940.4 382.5C939.25 384.47 938 388.13 937.1 390.3C936.2 392.47 935.6 393.88 935 395.5C934.4 397.12 934.08 398.42 933.5 400C932.92 401.58 931.83 404.17 931.5 405" stroke="#0000ff"/>
<path d="M846.2 378C846.67 378.13 848.03 378.3 849 378.8C849.97 379.3 851 379.97 852 381C853 382.03 854.03 383.25 855 385C855.97 386.75 856.97 389.5 857.8 391.5C858.63 393.5 859.38 395.42 860 397C860.62 398.58 861 399.67 861.5 401C862 402.33 862.75 404.33 863 405" stroke="#0000ff"/>
<path d="M949.8 378C949.33 378.13 947.97 378.3 947 378.8C946.03 379.3 945 379.97 944 381C943 382.03 941.97 383.25 941 385C940.03 386.75 939.03 389.5 938.2 391.5C937.37 393.5 936.62 395.42 936 397C935.38 398.58 935 399.67 934.5 401C934 402.33 933.25 404.33 933 405" stroke="#0000ff"/>
<path d="M875.5 405C875.83 403.92 876.75 401 877.5 398.5C878.25 396 879.2 392.83 880 390C880.8 387.17 881.55 384.25 882.3 381.5C883.05 378.75 883.72 376.08 884.5 373.5C885.28 370.92 886.07 367.97 887 366C887.93 364.03 888.85 362.65 890.1 361.7C891.35 360.75 893.18 360.53 894.5 360.3C895.82 360.07 896.83 360.3 898 360.3C899.17 360.3 900.18 360.07 901.5 360.3C902.82 360.53 904.65 360.75 905.9 361.7C907.15 362.65 908.07 364.03 909 366C909.93 367.97 910.72 370.92 911.5 373.5C912.28 376.08 912.95 378.75 913.7 381.5C914.45 384.25 915.2 387.17 916 390C916.8 392.83 917.75 396 918.5 398.5C919.25 401 920.17 403.92 920.5 405" stroke="#0000ff"/>
<path d="M877.5 405C877.83 403.92 878.78 400.92 879.5 398.5C880.22 396.08 881.05 393.25 881.8 390.5C882.55 387.75 883.27 384.58 884 382C884.73 379.42 885.37 377.08 886.2 375C887.03 372.92 887.98 370.8 889 369.5C890.02 368.2 890.8 367.67 892.3 367.2C893.8 366.73 896.1 366.7 898 366.7C899.9 366.7 902.2 366.73 903.7 367.2C905.2 367.67 905.98 368.2 907 369.5C908.02 370.8 908.97 372.92 909.8 375C910.63 377.08 911.27 379.42 912 382C912.73 384.58 913.45 387.75 914.2 390.5C914.95 393.25 915.78 396.08 916.5 398.5C917.22 400.92 918.17 403.92 918.5 405" stroke="#0000ff"/>
<path d="M564 28C564.67 27.97 566.67 27.93 568 27.8C569.33 27.67 570.83 27.42 572 27.2C573.17 26.98 574.5 26.62 575 26.5" stroke="#ff0000"/>
<path d="M640.4 28C639.73 27.97 637.73 27.93 636.4 27.8C635.07 27.67 633.57 27.42 632.4 27.2C631.23 26.98 629.9 26.62 629.4 26.5" stroke="#ff0000"/>
<path d="M564.4 32.4C565.17 32.63 567.28 33.32 569 33.8C570.72 34.28 572.7 34.85 574.7 35.3C576.7 35.75 578.53 36.12 581 36.5C583.47 36.88 587 37.32 589.5 37.6C592 37.88 593.88 38.07 596 38.2C598.12 38.33 600.13 38.4 602.2 38.4C604.27 38.4 606.28 38.33 608.4 38.2C610.52 38.07 612.4 37.88 614.9 37.6C617.4 37.32 620.93 36.88 623.4 36.5C625.87 36.12 627.7 35.75 629.7 35.3C631.7 34.85 633.68 34.28 635.4 33.8C637.12 33.32 639.23 32.63 640 32.4" stroke="#ff0000"/>
<path d="M564.7 61.4C565 61.13 565.93 60.37 566.5 59.8C567.07 59.23 567.52 58.75 568.1 58C568.68 57.25 569.37 56.2 570 55.3C570.63 54.4 571.32 53.4 571.9 52.6C572.48 51.8 572.98 51.13 573.5 50.5C574.02 49.87 574.37 49.4 575 48.8C575.63 48.2 576.42 47.4 577.3 46.9C578.18 46.4 579.3 46.43 580.3 45.8C581.3 45.17 582.03 43.77 583.3 43.1C584.57 42.43 586.48 41.92 587.9 41.8C589.32 41.68 590.6 42.07 591.8 42.4C593 42.73 593.37 43.53 595.1 43.8C596.83 44.07 599.83 44 602.2 44C604.57 44 607.57 44.07 609.3 43.8C611.03 43.53 611.4 42.73 612.6 42.4C613.8 42.07 615.08 41.68 616.5 41.8C617.92 41.92 619.83 42.43 621.1 43.1C622.37 43.77 623.1 45.17 624.1 45.8C625.1 46.43 626.22 46.4 627.1 46.9C627.98 47.4 628.77 48.2 629.4 48.8C630.03 49.4 630.38 49.87 630.9 50.5C631.42 51.13 631.92 51.8 632.5 52.6C633.08 53.4 633.77 54.4 634.4 55.3C635.03 56.2 635.72 57.25 636.3 58C636.88 58.75 637.33 59.23 637.9 59.8C638.47 60.37 639.4 61.13 639.7 61.4" stroke="#ff0000"/>
<path d="M564.7 64.9C565 64.75 565.93 64.38 566.5 64C567.07 63.62 567.52 63.18 568.1 62.6C568.68 62.02 569.37 61.27 570 60.5C570.63 59.73 571.32 58.87 571.9 58C572.48 57.13 572.98 56.2 573.5 55.3C574.02 54.4 574.37 53.58 575 52.6C575.63 51.62 576.42 50.17 577.3 49.4C578.18 48.63 579.03 48.17 580.3 48C581.57 47.83 583.5 48.13 584.9 48.4C586.3 48.67 587.52 49.23 588.7 49.6C589.88 49.97 590.83 50.38 592 50.6C593.17 50.82 594 50.85 595.7 50.9C597.4 50.95 600.03 50.9 602.2 50.9C604.37 50.9 607 50.95 608.7 50.9C610.4 50.85 611.23 50.82 612.4 50.6C613.57 50.38 614.52 49.97 615.7 49.6C616.88 49.23 618.1 48.67 619.5 48.4C620.9 48.13 622.83 47.83 624.1 48C625.37 48.17 626.22 48.63 627.1 49.4C627.98 50.17 628.77 51.62 629.4 52.6C630.03 53.58 630.38 54.4 630.9 55.3C631.42 56.2 631.92 57.13 632.5 58C633.08 58.87 633.77 59.73 634.4 60.5C635.03 61.27 635.72 62.02 636.3 62.6C636.88 63.18 637.33 63.62 637.9 64C638.47 64.38 639.4 64.75 639.7 64.9" stroke="#ff0000"/>
<path d="M564.7 69.8C565.25 69.63 566.78 69.13 568 68.8C569.22 68.47 571 68.1 572 67.8C573 67.5 573.42 67.3 574 67C574.58 66.7 574.92 66.62 575.5 66C576.08 65.38 576.82 64.52 577.5 63.3C578.18 62.08 578.88 60.28 579.6 58.7C580.32 57.12 581.15 54.95 581.8 53.8C582.45 52.65 582.98 52.25 583.5 51.8C584.02 51.35 584.03 51.27 584.9 51.1C585.77 50.93 587.52 50.67 588.7 50.8C589.88 50.93 590.83 51.55 592 51.9C593.17 52.25 594 52.72 595.7 52.9C597.4 53.08 600.03 53 602.2 53C604.37 53 607 53.08 608.7 52.9C610.4 52.72 611.23 52.25 612.4 51.9C613.57 51.55 614.52 50.93 615.7 50.8C616.88 50.67 618.63 50.93 619.5 51.1C620.37 51.27 620.38 51.35 620.9 51.8C621.42 52.25 621.95 52.65 622.6 53.8C623.25 54.95 624.08 57.12 624.8 58.7C625.52 60.28 626.22 62.08 626.9 63.3C627.58 64.52 628.32 65.38 628.9 66C629.48 66.62 629.82 66.7 630.4 67C630.98 67.3 631.4 67.5 632.4 67.8C633.4 68.1 635.18 68.47 636.4 68.8C637.62 69.13 639.15 69.63 639.7 69.8" stroke="#ff0000"/>
<path d="M564.7 70.4C565.52 70.08 568.13 69.03 569.6 68.5C571.07 67.97 572.22 67.48 573.5 67.2C574.78 66.92 576.03 66.82 577.3 66.8C578.57 66.78 579.83 66.78 581.1 67.1C582.37 67.42 583.63 68 584.9 68.7C586.17 69.4 587.52 70.32 588.7 71.3C589.88 72.28 591.03 73.65 592 74.6C592.97 75.55 593.67 76.43 594.5 77C595.33 77.57 595.72 77.8 597 78C598.28 78.2 600.47 78.2 602.2 78.2C603.93 78.2 606.12 78.2 607.4 78C608.68 77.8 609.07 77.57 609.9 77C610.73 76.43 611.43 75.55 612.4 74.6C613.37 73.65 614.52 72.28 615.7 71.3C616.88 70.32 618.23 69.4 619.5 68.7C620.77 68 622.03 67.42 623.3 67.1C624.57 66.78 625.83 66.78 627.1 66.8C628.37 66.82 629.62 66.92 630.9 67.2C632.18 67.48 633.33 67.97 634.8 68.5C636.27 69.03 638.88 70.08 639.7 70.4" stroke="#ff0000"/>
<path d="M564.7 71.8C565.27 71.93 566.9 72.3 568.1 72.6C569.3 72.9 570.75 73.5 571.9 73.6C573.05 73.7 573.85 73.45 575 73.2C576.15 72.95 577.53 72.28 578.8 72.1C580.07 71.92 581.33 71.92 582.6 72.1C583.87 72.28 585.33 72.58 586.4 73.2C587.47 73.82 588.07 74.8 589 75.8C589.93 76.8 591 78.35 592 79.2C593 80.05 593.3 80.55 595 80.9C596.7 81.25 599.8 81.3 602.2 81.3C604.6 81.3 607.7 81.25 609.4 80.9C611.1 80.55 611.4 80.05 612.4 79.2C613.4 78.35 614.47 76.8 615.4 75.8C616.33 74.8 616.93 73.82 618 73.2C619.07 72.58 620.53 72.28 621.8 72.1C623.07 71.92 624.33 71.92 625.6 72.1C626.87 72.28 628.25 72.95 629.4 73.2C630.55 73.45 631.35 73.7 632.5 73.6C633.65 73.5 635.1 72.9 636.3 72.6C637.5 72.3 639.13 71.93 639.7 71.8" stroke="#ff0000"/>
<path d="M564.6 107.4C565.08 106.58 566.52 104.2 567.5 102.5C568.48 100.8 569.58 98.75 570.5 97.2C571.42 95.65 572.25 94.23 573 93.2C573.75 92.17 574.37 91.47 575 91C575.63 90.53 576.2 90.4 576.8 90.4C577.4 90.4 577.98 90.57 578.6 91C579.22 91.43 579.73 92.08 580.5 93C581.27 93.92 582.12 95.08 583.2 96.5C584.28 97.92 585.87 100 587 101.5C588.13 103 589.08 104.45 590 105.5C590.92 106.55 591.67 107.3 592.5 107.8C593.33 108.3 593.38 108.38 595 108.5C596.62 108.62 599.8 108.5 602.2 108.5C604.6 108.5 607.78 108.62 609.4 108.5C611.02 108.38 611.07 108.3 611.9 107.8C612.73 107.3 613.48 106.55 614.4 105.5C615.32 104.45 616.27 103 617.4 101.5C618.53 100 620.12 97.92 621.2 96.5C622.28 95.08 623.13 93.92 623.9 93C624.67 92.08 625.18 91.43 625.8 91C626.42 90.57 627 90.4 627.6 90.4C628.2 90.4 628.77 90.53 629.4 91C630.03 91.47 630.65 92.17 631.4 93.2C632.15 94.23 632.98 95.65 633.9 97.2C634.82 98.75 635.92 100.8 636.9 102.5C637.88 104.2 639.32 106.58 639.8 107.4" stroke="#ff0000"/>
<path d="M564.2 213.3C565.5 213.35 569.2 213.48 572 213.6C574.8 213.72 578.5 214.02 581 214C583.5 213.98 584.88 213.68 587 213.5C589.12 213.32 591.17 213 593.7 212.9C596.23 212.8 599.37 212.9 602.2 212.9C605.03 212.9 608.17 212.8 610.7 212.9C613.23 213 615.28 213.32 617.4 213.5C619.52 213.68 620.9 213.98 623.4 214C625.9 214.02 629.6 213.72 632.4 213.6C635.2 213.48 638.9 213.35 640.2 213.3" stroke="#ff0000"/>
<path d="M564.2 215.4C565.5 215.43 569.2 215.48 572 215.6C574.8 215.72 578.5 215.82 581 216.1C583.5 216.38 584.53 216.88 587 217.3C589.47 217.72 593.27 218.38 595.8 218.6C598.33 218.82 600.07 218.6 602.2 218.6C604.33 218.6 606.07 218.82 608.6 218.6C611.13 218.38 614.93 217.72 617.4 217.3C619.87 216.88 620.9 216.38 623.4 216.1C625.9 215.82 629.6 215.72 632.4 215.6C635.2 215.48 638.9 215.43 640.2 215.4" stroke="#ff0000"/>
<path d="M564.2 238.2C565.17 237.83 567.9 236.7 570 236C572.1 235.3 574.97 234.17 576.8 234C578.63 233.83 579.58 234.48 581 235C582.42 235.52 583.8 236.35 585.3 237.1C586.8 237.85 588.43 238.8 590 239.5C591.57 240.2 592.67 241 594.7 241.3C596.73 241.6 599.7 241.3 602.2 241.3C604.7 241.3 607.67 241.6 609.7 241.3C611.73 241 612.83 240.2 614.4 239.5C615.97 238.8 617.6 237.85 619.1 237.1C620.6 236.35 621.98 235.52 623.4 235C624.82 234.48 625.77 233.83 627.6 234C629.43 234.17 632.3 235.3 634.4 236C636.5 236.7 639.23 237.83 640.2 238.2" stroke="#ff0000"/>
<path d="M564.2 264.3C564.83 264.42 566.6 264.68 568 265C569.4 265.32 570.93 265.78 572.6 266.2C574.27 266.62 576.6 267.15 578 267.5C579.4 267.85 579.83 267.72 581 268.3C582.17 268.88 583.67 269.88 585 271C586.33 272.12 587.83 273.97 589 275C590.17 276.03 591.05 276.67 592 277.2C592.95 277.73 593 278.03 594.7 278.2C596.4 278.37 599.7 278.2 602.2 278.2C604.7 278.2 608 278.37 609.7 278.2C611.4 278.03 611.45 277.73 612.4 277.2C613.35 276.67 614.23 276.03 615.4 275C616.57 273.97 618.07 272.12 619.4 271C620.73 269.88 622.23 268.88 623.4 268.3C624.57 267.72 625 267.85 626.4 267.5C627.8 267.15 630.13 266.62 631.8 266.2C633.47 265.78 635 265.32 636.4 265C637.8 264.68 639.57 264.42 640.2 264.3" stroke="#ff0000"/>
<path d="M564.2 266.8C565.5 267.13 569.87 268.27 572 268.8C574.13 269.33 575.5 269.6 577 270C578.5 270.4 579.67 270.53 581 271.2C582.33 271.87 583.83 273.03 585 274C586.17 274.97 586.83 276 588 277C589.17 278 590.88 279.28 592 280C593.12 280.72 593 281.05 594.7 281.3C596.4 281.55 599.7 281.5 602.2 281.5C604.7 281.5 608 281.55 609.7 281.3C611.4 281.05 611.28 280.72 612.4 280C613.52 279.28 615.23 278 616.4 277C617.57 276 618.23 274.97 619.4 274C620.57 273.03 622.07 271.87 623.4 271.2C624.73 270.53 625.9 270.4 627.4 270C628.9 269.6 630.27 269.33 632.4 268.8C634.53 268.27 638.9 267.13 640.2 266.8" stroke="#ff0000"/>
<path d="M564.2 274.5C564.83 274.78 566.6 275.42 568 276.2C569.4 276.98 571.1 277.9 572.6 279.2C574.1 280.5 575.6 282.42 577 284C578.4 285.58 580 287.37 581 288.7C582 290.03 582.33 291.07 583 292C583.67 292.93 584.42 293.8 585 294.3C585.58 294.8 586 295 586.5 295C587 295 587.42 294.88 588 294.3C588.58 293.72 589.33 292.5 590 291.5C590.67 290.5 591.22 289.12 592 288.3C592.78 287.48 593 286.88 594.7 286.6C596.4 286.32 599.7 286.6 602.2 286.6C604.7 286.6 608 286.32 609.7 286.6C611.4 286.88 611.62 287.48 612.4 288.3C613.18 289.12 613.73 290.5 614.4 291.5C615.07 292.5 615.82 293.72 616.4 294.3C616.98 294.88 617.4 295 617.9 295C618.4 295 618.82 294.8 619.4 294.3C619.98 293.8 620.73 292.93 621.4 292C622.07 291.07 622.4 290.03 623.4 288.7C624.4 287.37 626 285.58 627.4 284C628.8 282.42 630.3 280.5 631.8 279.2C633.3 277.9 635 276.98 636.4 276.2C637.8 275.42 639.57 274.78 640.2 274.5" stroke="#ff0000"/>
<path d="M564.2 277.3C564.83 277.62 566.6 278.35 568 279.2C569.4 280.05 571.1 280.85 572.6 282.4C574.1 283.95 575.6 286.4 577 288.5C578.4 290.6 579.83 293.08 581 295C582.17 296.92 583.17 298.7 584 300C584.83 301.3 585.42 302.18 586 302.8C586.58 303.42 587 303.67 587.5 303.7C588 303.73 588.42 303.48 589 303C589.58 302.52 590.33 301.4 591 300.8C591.67 300.2 592.38 299.68 593 299.4C593.62 299.12 593.17 299.13 594.7 299.1C596.23 299.07 599.7 299.2 602.2 299.2C604.7 299.2 608.17 299.07 609.7 299.1C611.23 299.13 610.78 299.12 611.4 299.4C612.02 299.68 612.73 300.2 613.4 300.8C614.07 301.4 614.82 302.52 615.4 303C615.98 303.48 616.4 303.73 616.9 303.7C617.4 303.67 617.82 303.42 618.4 302.8C618.98 302.18 619.57 301.3 620.4 300C621.23 298.7 622.23 296.92 623.4 295C624.57 293.08 626 290.6 627.4 288.5C628.8 286.4 630.3 283.95 631.8 282.4C633.3 280.85 635 280.05 636.4 279.2C637.8 278.35 639.57 277.62 640.2 277.3" stroke="#ff0000"/>
<path d="M564 322.6C564.67 323.25 566.65 325.08 568 326.5C569.35 327.92 570.77 329.27 572.1 331.1C573.43 332.93 574.67 335.15 576 337.5C577.33 339.85 578.77 342.7 580.1 345.2C581.43 347.7 582.67 350.17 584 352.5C585.33 354.83 586.77 357.2 588.1 359.2C589.43 361.2 590.65 362.98 592 364.5C593.35 366.02 594.5 367.63 596.2 368.3C597.9 368.97 600.2 368.5 602.2 368.5C604.2 368.5 606.5 368.97 608.2 368.3C609.9 367.63 611.05 366.02 612.4 364.5C613.75 362.98 614.97 361.2 616.3 359.2C617.63 357.2 619.07 354.83 620.4 352.5C621.73 350.17 622.97 347.7 624.3 345.2C625.63 342.7 627.07 339.85 628.4 337.5C629.73 335.15 630.97 332.93 632.3 331.1C633.63 329.27 635.05 327.92 636.4 326.5C637.75 325.08 639.73 323.25 640.4 322.6" stroke="#ff0000"/>
<path d="M564 332.7C564.67 333.5 566.65 335.77 568 337.5C569.35 339.23 570.77 341.02 572.1 343.1C573.43 345.18 574.67 347.65 576 350C577.33 352.35 578.77 354.95 580.1 357.2C581.43 359.45 582.67 361.28 584 363.5C585.33 365.72 587.02 368.5 588.1 370.5C589.18 372.5 589.68 374.22 590.5 375.5C591.32 376.78 592.08 377.7 593 378.2C593.92 378.7 594.47 378.45 596 378.5C597.53 378.55 600.13 378.5 602.2 378.5C604.27 378.5 606.87 378.55 608.4 378.5C609.93 378.45 610.48 378.7 611.4 378.2C612.32 377.7 613.08 376.78 613.9 375.5C614.72 374.22 615.22 372.5 616.3 370.5C617.38 368.5 619.07 365.72 620.4 363.5C621.73 361.28 622.97 359.45 624.3 357.2C625.63 354.95 627.07 352.35 628.4 350C629.73 347.65 630.97 345.18 632.3 343.1C633.63 341.02 635.05 339.23 636.4 337.5C637.75 335.77 639.73 333.5 640.4 332.7" stroke="#ff0000"/>
<path d="M564 344.7C564.5 345.08 566 346.08 567 347C568 347.92 569 348.7 570 350.2C571 351.7 571.98 353.83 573 356C574.02 358.17 575.1 360.7 576.1 363.2C577.1 365.7 578 368.12 579 371C580 373.88 581.18 377.58 582.1 380.5C583.02 383.42 583.58 386.2 584.5 388.5C585.42 390.8 586.68 393.43 587.6 394.3C588.52 395.17 589.22 393.98 590 393.7C590.78 393.42 591.43 392.9 592.3 392.6C593.17 392.3 593.55 392.03 595.2 391.9C596.85 391.77 599.87 391.8 602.2 391.8C604.53 391.8 607.55 391.77 609.2 391.9C610.85 392.03 611.23 392.3 612.1 392.6C612.97 392.9 613.62 393.42 614.4 393.7C615.18 393.98 615.88 395.17 616.8 394.3C617.72 393.43 618.98 390.8 619.9 388.5C620.82 386.2 621.38 383.42 622.3 380.5C623.22 377.58 624.4 373.88 625.4 371C626.4 368.12 627.3 365.7 628.3 363.2C629.3 360.7 630.38 358.17 631.4 356C632.42 353.83 633.4 351.7 634.4 350.2C635.4 348.7 636.4 347.92 637.4 347C638.4 346.08 639.9 345.08 640.4 344.7" stroke="#ff0000"/>
<path d="M564 350.8C564.5 351.25 566 352.27 567 353.5C568 354.73 569.15 356.62 570 358.2C570.85 359.78 571.27 360.87 572.1 363C572.93 365.13 574 367.95 575 371C576 374.05 577.1 378.22 578.1 381.3C579.1 384.38 580.1 387.22 581 389.5C581.9 391.78 582.73 393.58 583.5 395C584.27 396.42 584.85 397.33 585.6 398C586.35 398.67 587.22 398.77 588 399C588.78 399.23 587.93 399.33 590.3 399.4C592.67 399.47 598.23 399.4 602.2 399.4C606.17 399.4 611.73 399.47 614.1 399.4C616.47 399.33 615.62 399.23 616.4 399C617.18 398.77 618.05 398.67 618.8 398C619.55 397.33 620.13 396.42 620.9 395C621.67 393.58 622.5 391.78 623.4 389.5C624.3 387.22 625.3 384.38 626.3 381.3C627.3 378.22 628.4 374.05 629.4 371C630.4 367.95 631.47 365.13 632.3 363C633.13 360.87 633.55 359.78 634.4 358.2C635.25 356.62 636.4 354.73 637.4 353.5C638.4 352.27 639.9 351.25 640.4 350.8" stroke="#ff0000"/>
<path d="M585.5 405C585.83 404.67 586.83 403.42 587.5 403C588.17 402.58 588.83 402.42 589.5 402.5C590.17 402.58 590.92 403.08 591.5 403.5C592.08 403.92 592.75 404.75 593 405" stroke="#ff0000"/>
<path d="M618.9 405C618.57 404.67 617.57 403.42 616.9 403C616.23 402.58 615.57 402.42 614.9 402.5C614.23 402.58 613.48 403.08 612.9 403.5C612.32 403.92 611.65 404.75 611.4 405" stroke="#ff0000"/>
<path d="M640.3 32C641.52 32.18 645.35 32.53 647.6 33.1C649.85 33.67 651.75 34.43 653.8 35.4C655.85 36.37 658.38 38 659.9 38.9C661.42 39.8 661.75 40.23 662.9 40.8C664.05 41.37 665.52 41.8 666.8 42.3C668.08 42.8 669.33 43.17 670.6 43.8C671.87 44.43 673.13 45.33 674.4 46.1C675.67 46.87 676.93 47.5 678.2 48.4C679.47 49.3 680.82 50.65 682 51.5C683.18 52.35 684.4 53.32 685.3 53.5C686.2 53.68 686.68 53.03 687.4 52.6C688.12 52.17 688.47 51.95 689.6 50.9C690.73 49.85 692.67 47.68 694.2 46.3C695.73 44.92 696.97 43.52 698.8 42.6C700.63 41.68 703.22 41.42 705.2 40.8C707.18 40.18 708.87 39.4 710.7 38.9C712.53 38.4 714.07 37.92 716.2 37.8C718.33 37.68 721.05 38.08 723.5 38.2C725.95 38.32 727.58 38.45 730.9 38.5C734.22 38.55 739.23 38.5 743.4 38.5C747.57 38.5 752.58 38.55 755.9 38.5C759.22 38.45 760.85 38.32 763.3 38.2C765.75 38.08 768.47 37.68 770.6 37.8C772.73 37.92 774.27 38.4 776.1 38.9C777.93 39.4 779.62 40.18 781.6 40.8C783.58 41.42 786.17 41.68 788 42.6C789.83 43.52 791.07 44.92 792.6 46.3C794.13 47.68 796.07 49.85 797.2 50.9C798.33 51.95 798.68 52.17 799.4 52.6C800.12 53.03 800.6 53.68 801.5 53.5C802.4 53.32 803.62 52.35 804.8 51.5C805.98 50.65 807.33 49.3 808.6 48.4C809.87 47.5 811.13 46.87 812.4 46.1C813.67 45.33 814.93 44.43 816.2 43.8C817.47 43.17 818.72 42.8 820 42.3C821.28 41.8 822.75 41.37 823.9 40.8C825.05 40.23 825.38 39.8 826.9 38.9C828.42 38 830.95 36.37 833 35.4C835.05 34.43 836.95 33.67 839.2 33.1C841.45 32.53 845.28 32.18 846.5 32" stroke="#ff0000"/>
<path d="M640.5 61.1C640.88 60.83 642.05 60.13 642.8 59.5C643.55 58.87 644.22 58.22 645 57.3C645.78 56.38 646.63 55.13 647.5 54C648.37 52.87 649.32 51.67 650.2 50.5C651.08 49.33 651.95 48.08 652.8 47C653.65 45.92 654.52 44.78 655.3 44C656.08 43.22 656.73 42.78 657.5 42.3C658.27 41.82 659.15 41.43 659.9 41.1C660.65 40.77 661.23 40.48 662 40.3C662.77 40.12 663.75 39.97 664.5 40C665.25 40.03 665.87 40.25 666.5 40.5C667.13 40.75 667.68 41.08 668.3 41.5C668.92 41.92 669.57 42.48 670.2 43C670.83 43.52 671.47 44.13 672.1 44.6C672.73 45.07 673.37 45.5 674 45.8C674.63 46.1 674.93 46.35 675.9 46.4C676.87 46.45 678.4 46.33 679.8 46.1C681.2 45.87 683.03 45.35 684.3 45C685.57 44.65 686.52 44.23 687.4 44C688.28 43.77 688.92 43.6 689.6 43.6C690.28 43.6 690.88 43.72 691.5 44C692.12 44.28 692.72 44.75 693.3 45.3C693.88 45.85 694.4 46.53 695 47.3C695.6 48.07 696.27 49.03 696.9 49.9C697.53 50.77 698.18 51.73 698.8 52.5C699.42 53.27 699.98 53.98 700.6 54.5C701.22 55.02 701.88 55.28 702.5 55.6C703.12 55.92 703.23 56.12 704.3 56.4C705.37 56.68 707.53 57 708.9 57.3C710.27 57.6 711.32 57.95 712.5 58.2C713.68 58.45 714.77 58.65 716 58.8C717.23 58.95 718.65 59.2 719.9 59.1C721.15 59 722.48 58.62 723.5 58.2C724.52 57.78 725.23 57.07 726 56.6C726.77 56.13 727.27 55.87 728.1 55.4C728.93 54.93 730.08 54.25 731 53.8C731.92 53.35 732.6 53 733.6 52.7C734.6 52.4 735.93 52.15 737 52C738.07 51.85 738.93 51.88 740 51.8C741.07 51.72 742.27 51.5 743.4 51.5C744.53 51.5 745.73 51.72 746.8 51.8C747.87 51.88 748.73 51.85 749.8 52C750.87 52.15 752.2 52.4 753.2 52.7C754.2 53 754.88 53.35 755.8 53.8C756.72 54.25 757.87 54.93 758.7 55.4C759.53 55.87 760.03 56.13 760.8 56.6C761.57 57.07 762.28 57.78 763.3 58.2C764.32 58.62 765.65 59 766.9 59.1C768.15 59.2 769.57 58.95 770.8 58.8C772.03 58.65 773.12 58.45 774.3 58.2C775.48 57.95 776.53 57.6 777.9 57.3C779.27 57 781.43 56.68 782.5 56.4C783.57 56.12 783.68 55.92 784.3 55.6C784.92 55.28 785.58 55.02 786.2 54.5C786.82 53.98 787.38 53.27 788 52.5C788.62 51.73 789.27 50.77 789.9 49.9C790.53 49.03 791.2 48.07 791.8 47.3C792.4 46.53 792.92 45.85 793.5 45.3C794.08 44.75 794.68 44.28 795.3 44C795.92 43.72 796.52 43.6 797.2 43.6C797.88 43.6 798.52 43.77 799.4 44C800.28 44.23 801.23 44.65 802.5 45C803.77 45.35 805.6 45.87 807 46.1C808.4 46.33 809.93 46.45 810.9 46.4C811.87 46.35 812.17 46.1 812.8 45.8C813.43 45.5 814.07 45.07 814.7 44.6C815.33 44.13 815.97 43.52 816.6 43C817.23 42.48 817.88 41.92 818.5 41.5C819.12 41.08 819.67 40.75 820.3 40.5C820.93 40.25 821.55 40.03 822.3 40C823.05 39.97 824.03 40.12 824.8 40.3C825.57 40.48 826.15 40.77 826.9 41.1C827.65 41.43 828.53 41.82 829.3 42.3C830.07 42.78 830.72 43.22 831.5 44C832.28 44.78 833.15 45.92 834 47C834.85 48.08 835.72 49.33 836.6 50.5C837.48 51.67 838.43 52.87 839.3 54C840.17 55.13 841.02 56.38 841.8 57.3C842.58 58.22 843.25 58.87 844 59.5C844.75 60.13 845.92 60.83 846.3 61.1" stroke="#ff0000"/>
<path d="M640.5 65.3C640.88 65.12 642.05 64.7 642.8 64.2C643.55 63.7 644.22 63.25 645 62.3C645.78 61.35 646.67 59.75 647.5 58.5C648.33 57.25 649.22 55.83 650 54.8C650.78 53.77 651.45 52.87 652.2 52.3C652.95 51.73 653.78 51.53 654.5 51.4C655.22 51.27 655.72 51.3 656.5 51.5C657.28 51.7 658.37 52.1 659.2 52.6C660.03 53.1 660.7 53.8 661.5 54.5C662.3 55.2 663.17 56.05 664 56.8C664.83 57.55 665.7 58.3 666.5 59C667.3 59.7 668.05 60.42 668.8 61C669.55 61.58 670.18 62.1 671 62.5C671.82 62.9 672.87 63.22 673.7 63.4C674.53 63.58 675.2 63.6 676 63.6C676.8 63.6 677.67 63.62 678.5 63.4C679.33 63.18 680.2 62.7 681 62.3C681.8 61.9 682.55 61.47 683.3 61C684.05 60.53 684.7 60 685.5 59.5C686.3 59 687.18 58.43 688.1 58C689.02 57.57 689.98 57.1 691 56.9C692.02 56.7 692.9 56.85 694.2 56.8C695.5 56.75 697.28 56.67 698.8 56.6C700.32 56.53 701.93 56.5 703.3 56.4C704.67 56.3 705.77 56.17 707 56C708.23 55.83 709.62 55.7 710.7 55.4C711.78 55.1 712.58 54.65 713.5 54.2C714.42 53.75 715.12 53.12 716.2 52.7C717.28 52.28 718.78 52 720 51.7C721.22 51.4 722.42 51.17 723.5 50.9C724.58 50.63 725.58 50.42 726.5 50.1C727.42 49.78 728.17 49.52 729 49C729.83 48.48 730.73 47.62 731.5 47C732.27 46.38 732.93 45.72 733.6 45.3C734.27 44.88 734.88 44.72 735.5 44.5C736.12 44.28 736.55 44.13 737.3 44C738.05 43.87 738.98 43.77 740 43.7C741.02 43.63 742.27 43.6 743.4 43.6C744.53 43.6 745.78 43.63 746.8 43.7C747.82 43.77 748.75 43.87 749.5 44C750.25 44.13 750.68 44.28 751.3 44.5C751.92 44.72 752.53 44.88 753.2 45.3C753.87 45.72 754.53 46.38 755.3 47C756.07 47.62 756.97 48.48 757.8 49C758.63 49.52 759.38 49.78 760.3 50.1C761.22 50.42 762.22 50.63 763.3 50.9C764.38 51.17 765.58 51.4 766.8 51.7C768.02 52 769.52 52.28 770.6 52.7C771.68 53.12 772.38 53.75 773.3 54.2C774.22 54.65 775.02 55.1 776.1 55.4C777.18 55.7 778.57 55.83 779.8 56C781.03 56.17 782.13 56.3 783.5 56.4C784.87 56.5 786.48 56.53 788 56.6C789.52 56.67 791.3 56.75 792.6 56.8C793.9 56.85 794.78 56.7 795.8 56.9C796.82 57.1 797.78 57.57 798.7 58C799.62 58.43 800.5 59 801.3 59.5C802.1 60 802.75 60.53 803.5 61C804.25 61.47 805 61.9 805.8 62.3C806.6 62.7 807.47 63.18 808.3 63.4C809.13 63.62 810 63.6 810.8 63.6C811.6 63.6 812.27 63.58 813.1 63.4C813.93 63.22 814.98 62.9 815.8 62.5C816.62 62.1 817.25 61.58 818 61C818.75 60.42 819.5 59.7 820.3 59C821.1 58.3 821.97 57.55 822.8 56.8C823.63 56.05 824.5 55.2 825.3 54.5C826.1 53.8 826.77 53.1 827.6 52.6C828.43 52.1 829.52 51.7 830.3 51.5C831.08 51.3 831.58 51.27 832.3 51.4C833.02 51.53 833.85 51.73 834.6 52.3C835.35 52.87 836.02 53.77 836.8 54.8C837.58 55.83 838.47 57.25 839.3 58.5C840.13 59.75 841.02 61.35 841.8 62.3C842.58 63.25 843.25 63.7 844 64.2C844.75 64.7 845.92 65.12 846.3 65.3" stroke="#ff0000"/>
<path d="M640.5 69.7C641 69.58 642.5 69.32 643.5 69C644.5 68.68 645.5 68.27 646.5 67.8C647.5 67.33 648.58 66.72 649.5 66.2C650.42 65.68 651.17 65.4 652 64.7C652.83 64 653.7 63.2 654.5 62C655.3 60.8 656.03 58.87 656.8 57.5C657.57 56.13 658.4 54.8 659.1 53.8C659.8 52.8 660.37 52.15 661 51.5C661.63 50.85 662.27 50.32 662.9 49.9C663.53 49.48 664.15 49.18 664.8 49C665.45 48.82 666.13 48.77 666.8 48.8C667.47 48.83 668.17 49.02 668.8 49.2C669.43 49.38 669.98 49.6 670.6 49.9C671.22 50.2 671.87 50.62 672.5 51C673.13 51.38 673.77 51.75 674.4 52.2C675.03 52.65 675.67 53.18 676.3 53.7C676.93 54.22 677.37 54.53 678.2 55.3C679.03 56.07 680.28 57.42 681.3 58.3C682.32 59.18 683.35 59.82 684.3 60.6C685.25 61.38 686.13 62.18 687 63C687.87 63.82 688.67 64.75 689.5 65.5C690.33 66.25 691.17 66.95 692 67.5C692.83 68.05 693.67 68.5 694.5 68.8C695.33 69.1 696.28 69.27 697 69.3C697.72 69.33 698.13 69.3 698.8 69C699.47 68.7 700.3 68.07 701 67.5C701.7 66.93 702.3 66.23 703 65.6C703.7 64.97 704.45 64.4 705.2 63.7C705.95 63 706.73 62.17 707.5 61.4C708.27 60.63 709.05 59.87 709.8 59.1C710.55 58.33 711.23 57.57 712 56.8C712.77 56.03 713.57 55.15 714.4 54.5C715.23 53.85 716.08 53.35 717 52.9C717.92 52.45 718.9 52.12 719.9 51.8C720.9 51.48 721.93 51.23 723 51C724.07 50.77 724.97 50.55 726.3 50.4C727.63 50.25 729.47 50.18 731 50.1C732.53 50.02 734 49.98 735.5 49.9C737 49.82 738.68 49.67 740 49.6C741.32 49.53 742.27 49.5 743.4 49.5C744.53 49.5 745.48 49.53 746.8 49.6C748.12 49.67 749.8 49.82 751.3 49.9C752.8 49.98 754.27 50.02 755.8 50.1C757.33 50.18 759.17 50.25 760.5 50.4C761.83 50.55 762.73 50.77 763.8 51C764.87 51.23 765.9 51.48 766.9 51.8C767.9 52.12 768.88 52.45 769.8 52.9C770.72 53.35 771.57 53.85 772.4 54.5C773.23 55.15 774.03 56.03 774.8 56.8C775.57 57.57 776.25 58.33 777 59.1C777.75 59.87 778.53 60.63 779.3 61.4C780.07 62.17 780.85 63 781.6 63.7C782.35 64.4 783.1 64.97 783.8 65.6C784.5 66.23 785.1 66.93 785.8 67.5C786.5 68.07 787.33 68.7 788 69C788.67 69.3 789.08 69.33 789.8 69.3C790.52 69.27 791.47 69.1 792.3 68.8C793.13 68.5 793.97 68.05 794.8 67.5C795.63 66.95 796.47 66.25 797.3 65.5C798.13 64.75 798.93 63.82 799.8 63C800.67 62.18 801.55 61.38 802.5 60.6C803.45 59.82 804.48 59.18 805.5 58.3C806.52 57.42 807.77 56.07 808.6 55.3C809.43 54.53 809.87 54.22 810.5 53.7C811.13 53.18 811.77 52.65 812.4 52.2C813.03 51.75 813.67 51.38 814.3 51C814.93 50.62 815.58 50.2 816.2 49.9C816.82 49.6 817.37 49.38 818 49.2C818.63 49.02 819.33 48.83 820 48.8C820.67 48.77 821.35 48.82 822 49C822.65 49.18 823.27 49.48 823.9 49.9C824.53 50.32 825.17 50.85 825.8 51.5C826.43 52.15 827 52.8 827.7 53.8C828.4 54.8 829.23 56.13 830 57.5C830.77 58.87 831.5 60.8 832.3 62C833.1 63.2 833.97 64 834.8 64.7C835.63 65.4 836.38 65.68 837.3 66.2C838.22 66.72 839.3 67.33 840.3 67.8C841.3 68.27 842.3 68.68 843.3 69C844.3 69.32 845.8 69.58 846.3 69.7" stroke="#ff0000"/>
<path d="M640.5 70.1C641 69.92 642.55 69.35 643.5 69C644.45 68.65 645.12 68.42 646.2 68C647.28 67.58 648.55 66.95 650 66.5C651.45 66.05 653.65 65.42 654.9 65.3C656.15 65.18 656.65 65.55 657.5 65.8C658.35 66.05 659.25 66.27 660 66.8C660.75 67.33 661.25 68.05 662 69C662.75 69.95 663.77 71.33 664.5 72.5C665.23 73.67 665.68 74.72 666.4 76C667.12 77.28 668 78.78 668.8 80.2C669.6 81.62 670.5 83.2 671.2 84.5C671.9 85.8 672.38 86.8 673 88C673.62 89.2 674.18 90.45 674.9 91.7C675.62 92.95 676.45 94.03 677.3 95.5C678.15 96.97 679.05 99 680 100.5C680.95 102 681.95 103.48 683 104.5C684.05 105.52 685.05 106.18 686.3 106.6C687.55 107.02 688.75 106.83 690.5 107C692.25 107.17 695.05 107.35 696.8 107.6C698.55 107.85 699.58 108.15 701 108.5C702.42 108.85 704.05 110.12 705.3 109.7C706.55 109.28 707.45 107.22 708.5 106C709.55 104.78 710.35 103.65 711.6 102.4C712.85 101.15 714.6 99.57 716 98.5C717.4 97.43 718.67 96.75 720 96C721.33 95.25 722.6 94.7 724 94C725.4 93.3 727.15 93.13 728.4 91.8C729.65 90.47 730.45 87.92 731.5 86C732.55 84.08 733.45 81.48 734.7 80.3C735.95 79.12 737.55 79.15 739 78.9C740.45 78.65 741.93 78.8 743.4 78.8C744.87 78.8 746.35 78.65 747.8 78.9C749.25 79.15 750.85 79.12 752.1 80.3C753.35 81.48 754.25 84.08 755.3 86C756.35 87.92 757.15 90.47 758.4 91.8C759.65 93.13 761.4 93.3 762.8 94C764.2 94.7 765.47 95.25 766.8 96C768.13 96.75 769.4 97.43 770.8 98.5C772.2 99.57 773.95 101.15 775.2 102.4C776.45 103.65 777.25 104.78 778.3 106C779.35 107.22 780.25 109.28 781.5 109.7C782.75 110.12 784.38 108.85 785.8 108.5C787.22 108.15 788.25 107.85 790 107.6C791.75 107.35 794.55 107.17 796.3 107C798.05 106.83 799.25 107.02 800.5 106.6C801.75 106.18 802.75 105.52 803.8 104.5C804.85 103.48 805.85 102 806.8 100.5C807.75 99 808.65 96.97 809.5 95.5C810.35 94.03 811.18 92.95 811.9 91.7C812.62 90.45 813.18 89.2 813.8 88C814.42 86.8 814.9 85.8 815.6 84.5C816.3 83.2 817.2 81.62 818 80.2C818.8 78.78 819.68 77.28 820.4 76C821.12 74.72 821.57 73.67 822.3 72.5C823.03 71.33 824.05 69.95 824.8 69C825.55 68.05 826.05 67.33 826.8 66.8C827.55 66.27 828.45 66.05 829.3 65.8C830.15 65.55 830.65 65.18 831.9 65.3C833.15 65.42 835.35 66.05 836.8 66.5C838.25 66.95 839.52 67.58 840.6 68C841.68 68.42 842.35 68.65 843.3 69C844.25 69.35 845.8 69.92 846.3 70.1" stroke="#ff0000"/>
<path d="M640.5 72.3C641 72.45 642.38 72.82 643.5 73.2C644.62 73.58 645.95 74.22 647.2 74.6C648.45 74.98 649.72 75.27 651 75.5C652.28 75.73 653.33 75.5 654.9 76C656.47 76.5 659.05 77.75 660.4 78.5C661.75 79.25 662.2 79.7 663 80.5C663.8 81.3 664.45 82.35 665.2 83.3C665.95 84.25 666.7 85.2 667.5 86.2C668.3 87.2 668.97 87.98 670 89.3C671.03 90.62 672.7 92.73 673.7 94.1C674.7 95.47 675.28 96.52 676 97.5C676.72 98.48 677.33 99.17 678 100C678.67 100.83 679.32 101.47 680 102.5C680.68 103.53 681.1 105.48 682.1 106.2C683.1 106.92 684.6 106.73 686 106.8C687.4 106.87 689.08 106.77 690.5 106.6C691.92 106.43 693.08 106.15 694.5 105.8C695.92 105.45 697.58 105.22 699 104.5C700.42 103.78 701.6 102.55 703 101.5C704.4 100.45 705.98 99.08 707.4 98.2C708.82 97.32 710.1 96.73 711.5 96.2C712.9 95.67 714.22 95.37 715.8 95C717.38 94.63 719.25 94.35 721 94C722.75 93.65 724.72 93.9 726.3 92.9C727.88 91.9 729.1 89.75 730.5 88C731.9 86.25 733.12 83.33 734.7 82.4C736.28 81.47 738.55 82.4 740 82.4C741.45 82.4 742.27 82.4 743.4 82.4C744.53 82.4 745.35 82.4 746.8 82.4C748.25 82.4 750.52 81.47 752.1 82.4C753.68 83.33 754.9 86.25 756.3 88C757.7 89.75 758.92 91.9 760.5 92.9C762.08 93.9 764.05 93.65 765.8 94C767.55 94.35 769.42 94.63 771 95C772.58 95.37 773.9 95.67 775.3 96.2C776.7 96.73 777.98 97.32 779.4 98.2C780.82 99.08 782.4 100.45 783.8 101.5C785.2 102.55 786.38 103.78 787.8 104.5C789.22 105.22 790.88 105.45 792.3 105.8C793.72 106.15 794.88 106.43 796.3 106.6C797.72 106.77 799.4 106.87 800.8 106.8C802.2 106.73 803.7 106.92 804.7 106.2C805.7 105.48 806.12 103.53 806.8 102.5C807.48 101.47 808.13 100.83 808.8 100C809.47 99.17 810.08 98.48 810.8 97.5C811.52 96.52 812.1 95.47 813.1 94.1C814.1 92.73 815.77 90.62 816.8 89.3C817.83 87.98 818.5 87.2 819.3 86.2C820.1 85.2 820.85 84.25 821.6 83.3C822.35 82.35 823 81.3 823.8 80.5C824.6 79.7 825.05 79.25 826.4 78.5C827.75 77.75 830.33 76.5 831.9 76C833.47 75.5 834.52 75.73 835.8 75.5C837.08 75.27 838.35 74.98 839.6 74.6C840.85 74.22 842.18 73.58 843.3 73.2C844.42 72.82 845.8 72.45 846.3 72.3" stroke="#ff0000"/>
<path d="M640 106.6C640.5 105.83 641.95 103.4 643 102C644.05 100.6 645.05 99.67 646.3 98.2C647.55 96.73 649.42 94.47 650.5 93.2C651.58 91.93 652.1 91.2 652.8 90.6C653.5 90 654.08 89.73 654.7 89.6C655.32 89.47 655.87 89.57 656.5 89.8C657.13 90.03 657.38 90.22 658.5 91C659.62 91.78 661.7 93.33 663.2 94.5C664.7 95.67 666.1 96.68 667.5 98C668.9 99.32 670.18 101.03 671.6 102.4C673.02 103.77 674.6 104.98 676 106.2C677.4 107.42 678.83 108.4 680 109.7C681.17 111 681.95 112.42 683 114C684.05 115.58 685.13 117.37 686.3 119.2C687.47 121.03 688.77 123.32 690 125C691.23 126.68 692.53 128.8 693.7 129.3C694.87 129.8 695.78 128.98 697 128C698.22 127.02 699.83 124.98 701 123.4C702.17 121.82 702.93 119.9 704 118.5C705.07 117.1 706.07 115.5 707.4 115C708.73 114.5 710.4 115.25 712 115.5C713.6 115.75 715.32 116.23 717 116.5C718.68 116.77 720.6 117.27 722.1 117.1C723.6 116.93 724.68 116.18 726 115.5C727.32 114.82 728.83 113.83 730 113C731.17 112.17 731.87 111.22 733 110.5C734.13 109.78 735.07 109 736.8 108.7C738.53 108.4 741.2 108.7 743.4 108.7C745.6 108.7 748.27 108.4 750 108.7C751.73 109 752.67 109.78 753.8 110.5C754.93 111.22 755.63 112.17 756.8 113C757.97 113.83 759.48 114.82 760.8 115.5C762.12 116.18 763.2 116.93 764.7 117.1C766.2 117.27 768.12 116.77 769.8 116.5C771.48 116.23 773.2 115.75 774.8 115.5C776.4 115.25 778.07 114.5 779.4 115C780.73 115.5 781.73 117.1 782.8 118.5C783.87 119.9 784.63 121.82 785.8 123.4C786.97 124.98 788.58 127.02 789.8 128C791.02 128.98 791.93 129.8 793.1 129.3C794.27 128.8 795.57 126.68 796.8 125C798.03 123.32 799.33 121.03 800.5 119.2C801.67 117.37 802.75 115.58 803.8 114C804.85 112.42 805.63 111 806.8 109.7C807.97 108.4 809.4 107.42 810.8 106.2C812.2 104.98 813.78 103.77 815.2 102.4C816.62 101.03 817.9 99.32 819.3 98C820.7 96.68 822.1 95.67 823.6 94.5C825.1 93.33 827.18 91.78 828.3 91C829.42 90.22 829.67 90.03 830.3 89.8C830.93 89.57 831.48 89.47 832.1 89.6C832.72 89.73 833.3 90 834 90.6C834.7 91.2 835.22 91.93 836.3 93.2C837.38 94.47 839.25 96.73 840.5 98.2C841.75 99.67 842.75 100.6 843.8 102C844.85 103.4 846.3 105.83 846.8 106.6" stroke="#ff0000"/>
<path d="M670.8 26.5C671.33 27.23 673.05 29.88 674 30.9C674.95 31.92 675.73 32.22 676.5 32.6C677.27 32.98 677.93 33.17 678.6 33.2C679.27 33.23 679.83 33.07 680.5 32.8C681.17 32.53 681.72 32.65 682.6 31.6C683.48 30.55 685.27 27.35 685.8 26.5" stroke="#ff0000"/>
<path d="M816 26.5C815.47 27.23 813.75 29.88 812.8 30.9C811.85 31.92 811.07 32.22 810.3 32.6C809.53 32.98 808.87 33.17 808.2 33.2C807.53 33.23 806.97 33.07 806.3 32.8C805.63 32.53 805.08 32.65 804.2 31.6C803.32 30.55 801.53 27.35 801 26.5" stroke="#ff0000"/>
<path d="M630 27.5C630.83 27.6 633.33 27.97 635 28.1C636.67 28.23 638.3 28.22 640 28.3C641.7 28.38 643.53 28.75 645.2 28.6C646.87 28.45 649.2 27.6 650 27.4" stroke="#ff0000"/>
<path d="M856.8 27.5C855.97 27.6 853.47 27.97 851.8 28.1C850.13 28.23 848.5 28.22 846.8 28.3C845.1 28.38 843.27 28.75 841.6 28.6C839.93 28.45 837.6 27.6 836.8 27.4" stroke="#ff0000"/>
<path d="M640 213.5C641 213.55 643.9 213.72 646 213.8C648.1 213.88 650.6 214.22 652.6 214C654.6 213.78 656.27 213 658 212.5C659.73 212 661.08 211.63 663 211C664.92 210.37 667.33 209.45 669.5 208.7C671.67 207.95 673.92 207.2 676 206.5C678.08 205.8 680 205.12 682 204.5C684 203.88 686.23 203.15 688 202.8C689.77 202.45 691.1 202.28 692.6 202.4C694.1 202.52 695.43 202.98 697 203.5C698.57 204.02 700.27 204.82 702 205.5C703.73 206.18 705.57 206.77 707.4 207.6C709.23 208.43 710.9 209.62 713 210.5C715.1 211.38 716.73 212.5 720 212.9C723.27 213.3 728.7 212.9 732.6 212.9C736.5 212.9 739.8 212.9 743.4 212.9C747 212.9 750.3 212.9 754.2 212.9C758.1 212.9 763.53 213.3 766.8 212.9C770.07 212.5 771.7 211.38 773.8 210.5C775.9 209.62 777.57 208.43 779.4 207.6C781.23 206.77 783.07 206.18 784.8 205.5C786.53 204.82 788.23 204.02 789.8 203.5C791.37 202.98 792.7 202.52 794.2 202.4C795.7 202.28 797.03 202.45 798.8 202.8C800.57 203.15 802.8 203.88 804.8 204.5C806.8 205.12 808.72 205.8 810.8 206.5C812.88 207.2 815.13 207.95 817.3 208.7C819.47 209.45 821.88 210.37 823.8 211C825.72 211.63 827.07 212 828.8 212.5C830.53 213 832.2 213.78 834.2 214C836.2 214.22 838.7 213.88 840.8 213.8C842.9 213.72 845.8 213.55 846.8 213.5" stroke="#ff0000"/>
<path d="M640 217.1C640.7 217.1 642.53 216.87 644.2 217.1C645.87 217.33 647.9 217.97 650 218.5C652.1 219.03 654.63 219.83 656.8 220.3C658.97 220.77 660.88 221.07 663 221.3C665.12 221.53 667.67 221.65 669.5 221.7C671.33 221.75 672.6 221.73 674 221.6C675.4 221.47 676.07 221.37 677.9 220.9C679.73 220.43 682.55 219.5 685 218.8C687.45 218.1 690.43 216.88 692.6 216.7C694.77 216.52 695.88 217.1 698 217.7C700.12 218.3 703.13 219.58 705.3 220.3C707.47 221.02 708.9 221.55 711 222C713.1 222.45 715.73 223.08 717.9 223C720.07 222.92 721.55 222.13 724 221.5C726.45 220.87 729.37 219.65 732.6 219.2C735.83 218.75 739.8 218.8 743.4 218.8C747 218.8 750.97 218.75 754.2 219.2C757.43 219.65 760.35 220.87 762.8 221.5C765.25 222.13 766.73 222.92 768.9 223C771.07 223.08 773.7 222.45 775.8 222C777.9 221.55 779.33 221.02 781.5 220.3C783.67 219.58 786.68 218.3 788.8 217.7C790.92 217.1 792.03 216.52 794.2 216.7C796.37 216.88 799.35 218.1 801.8 218.8C804.25 219.5 807.07 220.43 808.9 220.9C810.73 221.37 811.4 221.47 812.8 221.6C814.2 221.73 815.47 221.75 817.3 221.7C819.13 221.65 821.68 221.53 823.8 221.3C825.92 221.07 827.83 220.77 830 220.3C832.17 219.83 834.7 219.03 836.8 218.5C838.9 217.97 840.93 217.33 842.6 217.1C844.27 216.87 846.1 217.1 846.8 217.1" stroke="#ff0000"/>
<path d="M640 238.2C641 237.83 643.9 236.78 646 236C648.1 235.22 650.6 233.75 652.6 233.5C654.6 233.25 655.88 234 658 234.5C660.12 235 663.13 236.17 665.3 236.5C667.47 236.83 668.9 236.57 671 236.5C673.1 236.43 675.57 236.32 677.9 236.1C680.23 235.88 682.55 235.48 685 235.2C687.45 234.92 690.1 234.43 692.6 234.4C695.1 234.37 697.53 234.72 700 235C702.47 235.28 705.07 235.52 707.4 236.1C709.73 236.68 711.9 237.63 714 238.5C716.1 239.37 718 240.75 720 241.3C722 241.85 723.9 241.7 726 241.8C728.1 241.9 729.7 241.88 732.6 241.9C735.5 241.92 739.8 241.9 743.4 241.9C747 241.9 751.3 241.92 754.2 241.9C757.1 241.88 758.7 241.9 760.8 241.8C762.9 241.7 764.8 241.85 766.8 241.3C768.8 240.75 770.7 239.37 772.8 238.5C774.9 237.63 777.07 236.68 779.4 236.1C781.73 235.52 784.33 235.28 786.8 235C789.27 234.72 791.7 234.37 794.2 234.4C796.7 234.43 799.35 234.92 801.8 235.2C804.25 235.48 806.57 235.88 808.9 236.1C811.23 236.32 813.7 236.43 815.8 236.5C817.9 236.57 819.33 236.83 821.5 236.5C823.67 236.17 826.68 235 828.8 234.5C830.92 234 832.2 233.25 834.2 233.5C836.2 233.75 838.7 235.22 840.8 236C842.9 236.78 845.8 237.83 846.8 238.2" stroke="#ff0000"/>
<path d="M640 264.5C640.83 265.08 643.25 266.85 645 268C646.75 269.15 648.67 271.15 650.5 271.4C652.33 271.65 653.88 270.13 656 269.5C658.12 268.87 661.2 267.72 663.2 267.6C665.2 267.48 666.25 268.27 668 268.8C669.75 269.33 671.53 269.85 673.7 270.8C675.87 271.75 678.2 273.27 681 274.5C683.8 275.73 687.83 277.53 690.5 278.2C693.17 278.87 694.53 278.5 697 278.5C699.47 278.5 703.3 278.7 705.3 278.2C707.3 277.7 707.6 276.57 709 275.5C710.4 274.43 712.37 273.22 713.7 271.8C715.03 270.38 715.88 268.3 717 267C718.12 265.7 719.32 264.25 720.4 264C721.48 263.75 722.48 264.58 723.5 265.5C724.52 266.42 725.5 268 726.5 269.5C727.5 271 728.5 273 729.5 274.5C730.5 276 731.5 277.65 732.5 278.5C733.5 279.35 734.42 279.48 735.5 279.6C736.58 279.72 737.68 279.3 739 279.2C740.32 279.1 741.93 279 743.4 279C744.87 279 746.48 279.1 747.8 279.2C749.12 279.3 750.22 279.72 751.3 279.6C752.38 279.48 753.3 279.35 754.3 278.5C755.3 277.65 756.3 276 757.3 274.5C758.3 273 759.3 271 760.3 269.5C761.3 268 762.28 266.42 763.3 265.5C764.32 264.58 765.32 263.75 766.4 264C767.48 264.25 768.68 265.7 769.8 267C770.92 268.3 771.77 270.38 773.1 271.8C774.43 273.22 776.4 274.43 777.8 275.5C779.2 276.57 779.5 277.7 781.5 278.2C783.5 278.7 787.33 278.5 789.8 278.5C792.27 278.5 793.63 278.87 796.3 278.2C798.97 277.53 803 275.73 805.8 274.5C808.6 273.27 810.93 271.75 813.1 270.8C815.27 269.85 817.05 269.33 818.8 268.8C820.55 268.27 821.6 267.48 823.6 267.6C825.6 267.72 828.68 268.87 830.8 269.5C832.92 270.13 834.47 271.65 836.3 271.4C838.13 271.15 840.05 269.15 841.8 268C843.55 266.85 845.97 265.08 846.8 264.5" stroke="#ff0000"/>
<path d="M640 267.6C640.67 267.57 642.6 267.47 644 267.4C645.4 267.33 646.57 267.2 648.4 267.2C650.23 267.2 652.88 267.33 655 267.4C657.12 267.47 659.1 267.08 661.1 267.6C663.1 268.12 664.9 269.43 667 270.5C669.1 271.57 671.53 272.95 673.7 274C675.87 275.05 677.9 275.93 680 276.8C682.1 277.67 683.85 278.27 686.3 279.2C688.75 280.13 692.25 281.73 694.7 282.4C697.15 283.07 698.88 283.18 701 283.2C703.12 283.22 705.45 282.93 707.4 282.5C709.35 282.07 710.93 281.22 712.7 280.6C714.47 279.98 716.45 279.02 718 278.8C719.55 278.58 720.75 278.93 722 279.3C723.25 279.67 724.43 280.22 725.5 281C726.57 281.78 727.48 282.75 728.4 284C729.32 285.25 730.15 286.92 731 288.5C731.85 290.08 732.73 292.15 733.5 293.5C734.27 294.85 734.77 295.97 735.6 296.6C736.43 297.23 737.2 297.18 738.5 297.3C739.8 297.42 741.77 297.3 743.4 297.3C745.03 297.3 747 297.42 748.3 297.3C749.6 297.18 750.37 297.23 751.2 296.6C752.03 295.97 752.53 294.85 753.3 293.5C754.07 292.15 754.95 290.08 755.8 288.5C756.65 286.92 757.48 285.25 758.4 284C759.32 282.75 760.23 281.78 761.3 281C762.37 280.22 763.55 279.67 764.8 279.3C766.05 278.93 767.25 278.58 768.8 278.8C770.35 279.02 772.33 279.98 774.1 280.6C775.87 281.22 777.45 282.07 779.4 282.5C781.35 282.93 783.68 283.22 785.8 283.2C787.92 283.18 789.65 283.07 792.1 282.4C794.55 281.73 798.05 280.13 800.5 279.2C802.95 278.27 804.7 277.67 806.8 276.8C808.9 275.93 810.93 275.05 813.1 274C815.27 272.95 817.7 271.57 819.8 270.5C821.9 269.43 823.7 268.12 825.7 267.6C827.7 267.08 829.68 267.47 831.8 267.4C833.92 267.33 836.57 267.2 838.4 267.2C840.23 267.2 841.4 267.33 842.8 267.4C844.2 267.47 846.13 267.57 846.8 267.6" stroke="#ff0000"/>
<path d="M640 274.5C640.67 274.72 642.6 275.18 644 275.8C645.4 276.42 647.15 276.92 648.4 278.2C649.65 279.48 650.45 281.4 651.5 283.5C652.55 285.6 653.62 288.38 654.7 290.8C655.78 293.22 656.93 295.55 658 298C659.07 300.45 660.1 303.42 661.1 305.5C662.1 307.58 662.95 309.1 664 310.5C665.05 311.9 666.07 313.57 667.4 313.9C668.73 314.23 670.25 313.2 672 312.5C673.75 311.8 676.23 310.95 677.9 309.7C679.57 308.45 680.6 306.57 682 305C683.4 303.43 684.8 301.37 686.3 300.3C687.8 299.23 689.38 299.15 691 298.6C692.62 298.05 694.42 297.53 696 297C697.58 296.47 699.17 296.07 700.5 295.4C701.83 294.73 702.83 293.85 704 293C705.17 292.15 706.33 291.08 707.5 290.3C708.67 289.52 709.85 288.77 711 288.3C712.15 287.83 712.9 287.67 714.4 287.5C715.9 287.33 718.23 287.3 720 287.3C721.77 287.3 723.5 287.52 725 287.5C726.5 287.48 727.75 287.35 729 287.2C730.25 287.05 731.33 286.75 732.5 286.6C733.67 286.45 734.18 286.35 736 286.3C737.82 286.25 740.93 286.3 743.4 286.3C745.87 286.3 748.98 286.25 750.8 286.3C752.62 286.35 753.13 286.45 754.3 286.6C755.47 286.75 756.55 287.05 757.8 287.2C759.05 287.35 760.3 287.48 761.8 287.5C763.3 287.52 765.03 287.3 766.8 287.3C768.57 287.3 770.9 287.33 772.4 287.5C773.9 287.67 774.65 287.83 775.8 288.3C776.95 288.77 778.13 289.52 779.3 290.3C780.47 291.08 781.63 292.15 782.8 293C783.97 293.85 784.97 294.73 786.3 295.4C787.63 296.07 789.22 296.47 790.8 297C792.38 297.53 794.18 298.05 795.8 298.6C797.42 299.15 799 299.23 800.5 300.3C802 301.37 803.4 303.43 804.8 305C806.2 306.57 807.23 308.45 808.9 309.7C810.57 310.95 813.05 311.8 814.8 312.5C816.55 313.2 818.07 314.23 819.4 313.9C820.73 313.57 821.75 311.9 822.8 310.5C823.85 309.1 824.7 307.58 825.7 305.5C826.7 303.42 827.73 300.45 828.8 298C829.87 295.55 831.02 293.22 832.1 290.8C833.18 288.38 834.25 285.6 835.3 283.5C836.35 281.4 837.15 279.48 838.4 278.2C839.65 276.92 841.4 276.42 842.8 275.8C844.2 275.18 846.13 274.72 846.8 274.5" stroke="#ff0000"/>
<path d="M640 277.3C640.5 277.38 641.92 277.38 643 277.8C644.08 278.22 645.25 279.03 646.5 279.8C647.75 280.57 649.33 280.87 650.5 282.4C651.67 283.93 652.45 286.55 653.5 289C654.55 291.45 655.72 294.35 656.8 297.1C657.88 299.85 658.93 302.7 660 305.5C661.07 308.3 662.12 311.57 663.2 313.9C664.28 316.23 665.45 318.15 666.5 319.5C667.55 320.85 668.42 321.78 669.5 322C670.58 322.22 671.92 321.38 673 320.8C674.08 320.22 674.48 319.28 676 318.5C677.52 317.72 680.1 317.02 682.1 316.1C684.1 315.18 685.9 314.07 688 313C690.1 311.93 692.62 310.63 694.7 309.7C696.78 308.77 698.95 308.27 700.5 307.4C702.05 306.53 702.83 305.63 704 304.5C705.17 303.37 706.5 301.85 707.5 300.6C708.5 299.35 709.13 298.15 710 297C710.87 295.85 711.7 294.7 712.7 293.7C713.7 292.7 714.83 291.73 716 291C717.17 290.27 718.37 289.8 719.7 289.3C721.03 288.8 722.55 288.38 724 288C725.45 287.62 726.9 287.42 728.4 287C729.9 286.58 731.57 285.87 733 285.5C734.43 285.13 735.27 284.95 737 284.8C738.73 284.65 741.27 284.6 743.4 284.6C745.53 284.6 748.07 284.65 749.8 284.8C751.53 284.95 752.37 285.13 753.8 285.5C755.23 285.87 756.9 286.58 758.4 287C759.9 287.42 761.35 287.62 762.8 288C764.25 288.38 765.77 288.8 767.1 289.3C768.43 289.8 769.63 290.27 770.8 291C771.97 291.73 773.1 292.7 774.1 293.7C775.1 294.7 775.93 295.85 776.8 297C777.67 298.15 778.3 299.35 779.3 300.6C780.3 301.85 781.63 303.37 782.8 304.5C783.97 305.63 784.75 306.53 786.3 307.4C787.85 308.27 790.02 308.77 792.1 309.7C794.18 310.63 796.7 311.93 798.8 313C800.9 314.07 802.7 315.18 804.7 316.1C806.7 317.02 809.28 317.72 810.8 318.5C812.32 319.28 812.72 320.22 813.8 320.8C814.88 321.38 816.22 322.22 817.3 322C818.38 321.78 819.25 320.85 820.3 319.5C821.35 318.15 822.52 316.23 823.6 313.9C824.68 311.57 825.73 308.3 826.8 305.5C827.87 302.7 828.92 299.85 830 297.1C831.08 294.35 832.25 291.45 833.3 289C834.35 286.55 835.13 283.93 836.3 282.4C837.47 280.87 839.05 280.57 840.3 279.8C841.55 279.03 842.72 278.22 843.8 277.8C844.88 277.38 846.3 277.38 846.8 277.3" stroke="#ff0000"/>
<path d="M640.4 322.6C640.92 323.08 642.5 324.42 643.5 325.5C644.5 326.58 645.23 327.35 646.4 329.1C647.57 330.85 649.15 333.67 650.5 336C651.85 338.33 653 340.77 654.5 343.1C656 345.43 657.83 347.65 659.5 350C661.17 352.35 663 354.95 664.5 357.2C666 359.45 667.15 361.48 668.5 363.5C669.85 365.52 671.55 368.02 672.6 369.3C673.65 370.58 673.98 371.33 674.8 371.2C675.62 371.07 676.33 370.05 677.5 368.5C678.67 366.95 680.55 364.07 681.8 361.9C683.05 359.73 683.87 357.32 685 355.5C686.13 353.68 687.6 352.25 688.6 351C689.6 349.75 690.17 348.7 691 348C691.83 347.3 692.68 346.83 693.6 346.8C694.52 346.77 695.52 347.23 696.5 347.8C697.48 348.37 698.42 348.92 699.5 350.2C700.58 351.48 701.88 353.82 703 355.5C704.12 357.18 705.03 358.8 706.2 360.3C707.37 361.8 708.73 363.25 710 364.5C711.27 365.75 712.47 366.92 713.8 367.8C715.13 368.68 716.6 369.3 718 369.8C719.4 370.3 720.7 370.72 722.2 370.8C723.7 370.88 725.32 370.52 727 370.3C728.68 370.08 730.47 369.8 732.3 369.5C734.13 369.2 736.15 368.75 738 368.5C739.85 368.25 741.6 368 743.4 368C745.2 368 746.95 368.25 748.8 368.5C750.65 368.75 752.67 369.2 754.5 369.5C756.33 369.8 758.12 370.08 759.8 370.3C761.48 370.52 763.1 370.88 764.6 370.8C766.1 370.72 767.4 370.3 768.8 369.8C770.2 369.3 771.67 368.68 773 367.8C774.33 366.92 775.53 365.75 776.8 364.5C778.07 363.25 779.43 361.8 780.6 360.3C781.77 358.8 782.68 357.18 783.8 355.5C784.92 353.82 786.22 351.48 787.3 350.2C788.38 348.92 789.32 348.37 790.3 347.8C791.28 347.23 792.28 346.77 793.2 346.8C794.12 346.83 794.97 347.3 795.8 348C796.63 348.7 797.2 349.75 798.2 351C799.2 352.25 800.67 353.68 801.8 355.5C802.93 357.32 803.75 359.73 805 361.9C806.25 364.07 808.13 366.95 809.3 368.5C810.47 370.05 811.18 371.07 812 371.2C812.82 371.33 813.15 370.58 814.2 369.3C815.25 368.02 816.95 365.52 818.3 363.5C819.65 361.48 820.8 359.45 822.3 357.2C823.8 354.95 825.63 352.35 827.3 350C828.97 347.65 830.8 345.43 832.3 343.1C833.8 340.77 834.95 338.33 836.3 336C837.65 333.67 839.23 330.85 840.4 329.1C841.57 327.35 842.3 326.58 843.3 325.5C844.3 324.42 845.88 323.08 846.4 322.6" stroke="#ff0000"/>
<path d="M640.4 332.1C641.07 332.75 643.07 334.5 644.4 336C645.73 337.5 647.05 339.1 648.4 341.1C649.75 343.1 651.15 345.65 652.5 348C653.85 350.35 655 352.78 656.5 355.2C658 357.62 659.83 360.15 661.5 362.5C663.17 364.85 665.07 367.3 666.5 369.3C667.93 371.3 668.75 372.8 670.1 374.5C671.45 376.2 673.2 377.9 674.6 379.5C676 381.1 677.3 383.85 678.5 384.1C679.7 384.35 680.68 382.17 681.8 381C682.92 379.83 683.92 378.52 685.2 377.1C686.48 375.68 688.1 373.9 689.5 372.5C690.9 371.1 692.27 369.2 693.6 368.7C694.93 368.2 696.1 369.08 697.5 369.5C698.9 369.92 700.58 370.53 702 371.2C703.42 371.87 704.6 372.87 706 373.5C707.4 374.13 708.4 374.78 710.4 375C712.4 375.22 715.2 374.88 718 374.8C720.8 374.72 724.7 374.25 727.2 374.5C729.7 374.75 731.03 375.73 733 376.3C734.97 376.87 737.27 377.55 739 377.9C740.73 378.25 741.93 378.4 743.4 378.4C744.87 378.4 746.07 378.25 747.8 377.9C749.53 377.55 751.83 376.87 753.8 376.3C755.77 375.73 757.1 374.75 759.6 374.5C762.1 374.25 766 374.72 768.8 374.8C771.6 374.88 774.4 375.22 776.4 375C778.4 374.78 779.4 374.13 780.8 373.5C782.2 372.87 783.38 371.87 784.8 371.2C786.22 370.53 787.9 369.92 789.3 369.5C790.7 369.08 791.87 368.2 793.2 368.7C794.53 369.2 795.9 371.1 797.3 372.5C798.7 373.9 800.32 375.68 801.6 377.1C802.88 378.52 803.88 379.83 805 381C806.12 382.17 807.1 384.35 808.3 384.1C809.5 383.85 810.8 381.1 812.2 379.5C813.6 377.9 815.35 376.2 816.7 374.5C818.05 372.8 818.87 371.3 820.3 369.3C821.73 367.3 823.63 364.85 825.3 362.5C826.97 360.15 828.8 357.62 830.3 355.2C831.8 352.78 832.95 350.35 834.3 348C835.65 345.65 837.05 343.1 838.4 341.1C839.75 339.1 841.07 337.5 842.4 336C843.73 334.5 845.73 332.75 846.4 332.1" stroke="#ff0000"/>
<path d="M640.4 344.7C640.92 345.17 642.5 346.42 643.5 347.5C644.5 348.58 645.57 349.62 646.4 351.2C647.23 352.78 647.82 354.65 648.5 357C649.18 359.35 649.83 362.55 650.5 365.3C651.17 368.05 651.83 370.83 652.5 373.5C653.17 376.17 653.83 378.97 654.5 381.3C655.17 383.63 655.83 385.82 656.5 387.5C657.17 389.18 657.58 390.65 658.5 391.4C659.42 392.15 660.75 392.07 662 392C663.25 391.93 664.65 391.38 666 391C667.35 390.62 668.6 389.9 670.1 389.7C671.6 389.5 673.32 389.67 675 389.8C676.68 389.93 678.53 390.05 680.2 390.5C681.87 390.95 683.32 391.8 685 392.5C686.68 393.2 688.63 394.2 690.3 394.7C691.97 395.2 693.33 395.37 695 395.5C696.67 395.63 698.55 395.72 700.3 395.5C702.05 395.28 703.82 394.75 705.5 394.2C707.18 393.65 708.73 393.15 710.4 392.2C712.07 391.25 713.82 389.62 715.5 388.5C717.18 387.38 718.83 385.87 720.5 385.5C722.17 385.13 723.82 385.88 725.5 386.3C727.18 386.72 728.93 387.3 730.6 388C732.27 388.7 733.82 389.8 735.5 390.5C737.18 391.2 739.38 391.92 740.7 392.2C742.02 392.48 742.5 392.2 743.4 392.2C744.3 392.2 744.78 392.48 746.1 392.2C747.42 391.92 749.62 391.2 751.3 390.5C752.98 389.8 754.53 388.7 756.2 388C757.87 387.3 759.62 386.72 761.3 386.3C762.98 385.88 764.63 385.13 766.3 385.5C767.97 385.87 769.62 387.38 771.3 388.5C772.98 389.62 774.73 391.25 776.4 392.2C778.07 393.15 779.62 393.65 781.3 394.2C782.98 394.75 784.75 395.28 786.5 395.5C788.25 395.72 790.13 395.63 791.8 395.5C793.47 395.37 794.83 395.2 796.5 394.7C798.17 394.2 800.12 393.2 801.8 392.5C803.48 391.8 804.93 390.95 806.6 390.5C808.27 390.05 810.12 389.93 811.8 389.8C813.48 389.67 815.2 389.5 816.7 389.7C818.2 389.9 819.45 390.62 820.8 391C822.15 391.38 823.55 391.93 824.8 392C826.05 392.07 827.38 392.15 828.3 391.4C829.22 390.65 829.63 389.18 830.3 387.5C830.97 385.82 831.63 383.63 832.3 381.3C832.97 378.97 833.63 376.17 834.3 373.5C834.97 370.83 835.63 368.05 836.3 365.3C836.97 362.55 837.62 359.35 838.3 357C838.98 354.65 839.57 352.78 840.4 351.2C841.23 349.62 842.3 348.58 843.3 347.5C844.3 346.42 845.88 345.17 846.4 344.7" stroke="#ff0000"/>
<path d="M640.4 350.8C640.92 351.25 642.5 352.43 643.5 353.5C644.5 354.57 645.4 355.2 646.4 357.2C647.4 359.2 648.48 362.48 649.5 365.5C650.52 368.52 651.67 372.3 652.5 375.3C653.33 378.3 653.83 380.82 654.5 383.5C655.17 386.18 655.75 389.4 656.5 391.4C657.25 393.4 658.08 394.73 659 395.5C659.92 396.27 660.83 396.42 662 396C663.17 395.58 664.65 393.63 666 393C667.35 392.37 668.6 392.23 670.1 392.2C671.6 392.17 673.05 392.52 675 392.8C676.95 393.08 679.8 393.45 681.8 393.9C683.8 394.35 685.03 394.95 687 395.5C688.97 396.05 691.77 396.73 693.6 397.2C695.43 397.67 696.32 398.02 698 398.3C699.68 398.58 701.07 398.8 703.7 398.9C706.33 399 711.08 398.97 713.8 398.9C716.52 398.83 717.77 398.63 720 398.5C722.23 398.37 724.7 398.1 727.2 398.1C729.7 398.1 732.3 398.38 735 398.5C737.7 398.62 740.6 398.8 743.4 398.8C746.2 398.8 749.1 398.62 751.8 398.5C754.5 398.38 757.1 398.1 759.6 398.1C762.1 398.1 764.57 398.37 766.8 398.5C769.03 398.63 770.28 398.83 773 398.9C775.72 398.97 780.47 399 783.1 398.9C785.73 398.8 787.12 398.58 788.8 398.3C790.48 398.02 791.37 397.67 793.2 397.2C795.03 396.73 797.83 396.05 799.8 395.5C801.77 394.95 803 394.35 805 393.9C807 393.45 809.85 393.08 811.8 392.8C813.75 392.52 815.2 392.17 816.7 392.2C818.2 392.23 819.45 392.37 820.8 393C822.15 393.63 823.63 395.58 824.8 396C825.97 396.42 826.88 396.27 827.8 395.5C828.72 394.73 829.55 393.4 830.3 391.4C831.05 389.4 831.63 386.18 832.3 383.5C832.97 380.82 833.47 378.3 834.3 375.3C835.13 372.3 836.28 368.52 837.3 365.5C838.32 362.48 839.4 359.2 840.4 357.2C841.4 355.2 842.3 354.57 843.3 353.5C844.3 352.43 845.88 351.25 846.4 350.8" stroke="#ff0000"/>
<path d="M656 405C656.67 404.08 658.5 400.83 660 399.5C661.5 398.17 663.32 397.52 665 397C666.68 396.48 668.43 396.4 670.1 396.4C671.77 396.4 673.32 396.72 675 397C676.68 397.28 678.53 397.6 680.2 398.1C681.87 398.6 683.32 399.3 685 400C686.68 400.7 688.8 401.47 690.3 402.3C691.8 403.13 693.38 404.55 694 405" stroke="#ff0000"/>
<path d="M830.8 405C830.13 404.08 828.3 400.83 826.8 399.5C825.3 398.17 823.48 397.52 821.8 397C820.12 396.48 818.37 396.4 816.7 396.4C815.03 396.4 813.48 396.72 811.8 397C810.12 397.28 808.27 397.6 806.6 398.1C804.93 398.6 803.48 399.3 801.8 400C800.12 400.7 798 401.47 796.5 402.3C795 403.13 793.42 404.55 792.8 405" stroke="#ff0000"/>
<path d="M846.5 32.4C847.08 32.47 848.58 32.62 850 32.8C851.42 32.98 853.33 33.05 855 33.5C856.67 33.95 858.33 34.83 860 35.5C861.67 36.17 863.02 36.98 865 37.5C866.98 38.02 868.78 38.35 871.9 38.6C875.02 38.85 879.35 38.93 883.7 39C888.05 39.07 893.23 39 898 39C902.77 39 907.95 39.07 912.3 39C916.65 38.93 920.98 38.85 924.1 38.6C927.22 38.35 929.02 38.02 931 37.5C932.98 36.98 934.33 36.17 936 35.5C937.67 34.83 939.33 33.95 941 33.5C942.67 33.05 944.58 32.98 946 32.8C947.42 32.62 948.92 32.47 949.5 32.4" stroke="#ff0000"/>
<path d="M846.5 28.5C847.25 28.47 849.42 28.5 851 28.3C852.58 28.1 855.17 27.47 856 27.3" stroke="#ff0000"/>
<path d="M949.5 28.5C948.75 28.47 946.58 28.5 945 28.3C943.42 28.1 940.83 27.47 940 27.3" stroke="#ff0000"/>
<path d="M846.5 61.1C846.92 61 848.2 60.77 849 60.5C849.8 60.23 850.47 60.17 851.3 59.5C852.13 58.83 853.12 57.57 854 56.5C854.88 55.43 855.8 54.07 856.6 53.1C857.4 52.13 858.08 51.43 858.8 50.7C859.52 49.97 860.12 49.32 860.9 48.7C861.68 48.08 862.65 47.48 863.5 47C864.35 46.52 865.08 46.22 866 45.8C866.92 45.38 868.02 44.87 869 44.5C869.98 44.13 870.57 43.72 871.9 43.6C873.23 43.48 875.32 43.57 877 43.8C878.68 44.03 880.5 44.58 882 45C883.5 45.42 884.73 45.92 886 46.3C887.27 46.68 888.27 46.97 889.6 47.3C890.93 47.63 892.6 48.08 894 48.3C895.4 48.52 896.67 48.6 898 48.6C899.33 48.6 900.6 48.52 902 48.3C903.4 48.08 905.07 47.63 906.4 47.3C907.73 46.97 908.73 46.68 910 46.3C911.27 45.92 912.5 45.42 914 45C915.5 44.58 917.32 44.03 919 43.8C920.68 43.57 922.77 43.48 924.1 43.6C925.43 43.72 926.02 44.13 927 44.5C927.98 44.87 929.08 45.38 930 45.8C930.92 46.22 931.65 46.52 932.5 47C933.35 47.48 934.32 48.08 935.1 48.7C935.88 49.32 936.48 49.97 937.2 50.7C937.92 51.43 938.6 52.13 939.4 53.1C940.2 54.07 941.12 55.43 942 56.5C942.88 57.57 943.87 58.83 944.7 59.5C945.53 60.17 946.2 60.23 947 60.5C947.8 60.77 949.08 61 949.5 61.1" stroke="#ff0000"/>
<path d="M846.5 65.3C846.92 65.22 848.2 65.08 849 64.8C849.8 64.52 850.47 64.32 851.3 63.6C852.13 62.88 853.12 61.52 854 60.5C854.88 59.48 855.8 58.53 856.6 57.5C857.4 56.47 858.08 55.32 858.8 54.3C859.52 53.28 860.12 52.15 860.9 51.4C861.68 50.65 862.65 50.22 863.5 49.8C864.35 49.38 864.75 49.05 866 48.9C867.25 48.75 869.33 48.67 871 48.9C872.67 49.13 874.17 49.72 876 50.3C877.83 50.88 880 51.9 882 52.4C884 52.9 885.33 53.15 888 53.3C890.67 53.45 894.67 53.3 898 53.3C901.33 53.3 905.33 53.45 908 53.3C910.67 53.15 912 52.9 914 52.4C916 51.9 918.17 50.88 920 50.3C921.83 49.72 923.33 49.13 925 48.9C926.67 48.67 928.75 48.75 930 48.9C931.25 49.05 931.65 49.38 932.5 49.8C933.35 50.22 934.32 50.65 935.1 51.4C935.88 52.15 936.48 53.28 937.2 54.3C937.92 55.32 938.6 56.47 939.4 57.5C940.2 58.53 941.12 59.48 942 60.5C942.88 61.52 943.87 62.88 944.7 63.6C945.53 64.32 946.2 64.52 947 64.8C947.8 65.08 949.08 65.22 949.5 65.3" stroke="#ff0000"/>
<path d="M846.5 69.8C847 69.67 848.55 69.3 849.5 69C850.45 68.7 851.28 68.4 852.2 68C853.12 67.6 854.13 67.05 855 66.6C855.87 66.15 856.42 65.8 857.4 65.3C858.38 64.8 859.88 64.1 860.9 63.6C861.92 63.1 862.65 62.73 863.5 62.3C864.35 61.87 865.17 61.42 866 61C866.83 60.58 867.67 60.18 868.5 59.8C869.33 59.42 869.75 59.03 871 58.7C872.25 58.37 873.83 57.93 876 57.8C878.17 57.67 881.67 57.83 884 57.9C886.33 57.97 887.67 58.15 890 58.2C892.33 58.25 895.33 58.2 898 58.2C900.67 58.2 903.67 58.25 906 58.2C908.33 58.15 909.67 57.97 912 57.9C914.33 57.83 917.83 57.67 920 57.8C922.17 57.93 923.75 58.37 925 58.7C926.25 59.03 926.67 59.42 927.5 59.8C928.33 60.18 929.17 60.58 930 61C930.83 61.42 931.65 61.87 932.5 62.3C933.35 62.73 934.08 63.1 935.1 63.6C936.12 64.1 937.62 64.8 938.6 65.3C939.58 65.8 940.13 66.15 941 66.6C941.87 67.05 942.88 67.6 943.8 68C944.72 68.4 945.55 68.7 946.5 69C947.45 69.3 949 69.67 949.5 69.8" stroke="#ff0000"/>
<path d="M846.5 70.6C847 70.53 848.55 70.35 849.5 70.2C850.45 70.05 851.2 70 852.2 69.7C853.2 69.4 854.33 68.83 855.5 68.4C856.67 67.97 858 67.4 859.2 67.1C860.4 66.8 861.57 66.58 862.7 66.6C863.83 66.62 864.95 66.8 866 67.2C867.05 67.6 868 68.23 869 69C870 69.77 871.13 70.8 872 71.8C872.87 72.8 873.28 73.72 874.2 75C875.12 76.28 876.45 78.1 877.5 79.5C878.55 80.9 879.42 81.98 880.5 83.4C881.58 84.82 882.92 86.68 884 88C885.08 89.32 886.17 90.53 887 91.3C887.83 92.07 888 92.15 889 92.6C890 93.05 891.5 93.67 893 94C894.5 94.33 896.33 94.6 898 94.6C899.67 94.6 901.5 94.33 903 94C904.5 93.67 906 93.05 907 92.6C908 92.15 908.17 92.07 909 91.3C909.83 90.53 910.92 89.32 912 88C913.08 86.68 914.42 84.82 915.5 83.4C916.58 81.98 917.45 80.9 918.5 79.5C919.55 78.1 920.88 76.28 921.8 75C922.72 73.72 923.13 72.8 924 71.8C924.87 70.8 926 69.77 927 69C928 68.23 928.95 67.6 930 67.2C931.05 66.8 932.17 66.62 933.3 66.6C934.43 66.58 935.6 66.8 936.8 67.1C938 67.4 939.33 67.97 940.5 68.4C941.67 68.83 942.8 69.4 943.8 69.7C944.8 70 945.55 70.05 946.5 70.2C947.45 70.35 949 70.53 949.5 70.6" stroke="#ff0000"/>
<path d="M846.5 72.6C847 72.65 848.55 72.8 849.5 72.9C850.45 73 851.2 73.05 852.2 73.2C853.2 73.35 854.33 73.58 855.5 73.8C856.67 74.02 857.95 74.33 859.2 74.5C860.45 74.67 861.87 74.67 863 74.8C864.13 74.93 865 75.02 866 75.3C867 75.58 868 75.97 869 76.5C870 77.03 871 77.75 872 78.5C873 79.25 874 80 875 81C876 82 877 83.33 878 84.5C879 85.67 879.92 86.83 881 88C882.08 89.17 883.33 90.53 884.5 91.5C885.67 92.47 886.75 93.22 888 93.8C889.25 94.38 890.33 94.72 892 95C893.67 95.28 896 95.5 898 95.5C900 95.5 902.33 95.28 904 95C905.67 94.72 906.75 94.38 908 93.8C909.25 93.22 910.33 92.47 911.5 91.5C912.67 90.53 913.92 89.17 915 88C916.08 86.83 917 85.67 918 84.5C919 83.33 920 82 921 81C922 80 923 79.25 924 78.5C925 77.75 926 77.03 927 76.5C928 75.97 929 75.58 930 75.3C931 75.02 931.87 74.93 933 74.8C934.13 74.67 935.55 74.67 936.8 74.5C938.05 74.33 939.33 74.02 940.5 73.8C941.67 73.58 942.8 73.35 943.8 73.2C944.8 73.05 945.55 73 946.5 72.9C947.45 72.8 949 72.65 949.5 72.6" stroke="#ff0000"/>
<path d="M846 106.6C846.5 105.92 848 104.02 849 102.5C850 100.98 851 99.08 852 97.5C853 95.92 854.2 94.03 855 93C855.8 91.97 856.25 91.68 856.8 91.3C857.35 90.92 857.77 90.72 858.3 90.7C858.83 90.68 859.3 90.73 860 91.2C860.7 91.67 861.18 92.25 862.5 93.5C863.82 94.75 865.98 96.98 867.9 98.7C869.82 100.42 871.9 102.13 874 103.8C876.1 105.47 878.42 107.17 880.5 108.7C882.58 110.23 884.38 111.65 886.5 113C888.62 114.35 891.28 116.1 893.2 116.8C895.12 117.5 896.4 117.2 898 117.2C899.6 117.2 900.88 117.5 902.8 116.8C904.72 116.1 907.38 114.35 909.5 113C911.62 111.65 913.42 110.23 915.5 108.7C917.58 107.17 919.9 105.47 922 103.8C924.1 102.13 926.18 100.42 928.1 98.7C930.02 96.98 932.18 94.75 933.5 93.5C934.82 92.25 935.3 91.67 936 91.2C936.7 90.73 937.17 90.68 937.7 90.7C938.23 90.72 938.65 90.92 939.2 91.3C939.75 91.68 940.2 91.97 941 93C941.8 94.03 943 95.92 944 97.5C945 99.08 946 100.98 947 102.5C948 104.02 949.5 105.92 950 106.6" stroke="#ff0000"/>
<path d="M846 214C847.55 214 852.13 214.1 855.3 214C858.47 213.9 861.5 213.58 865 213.4C868.5 213.22 872.63 212.88 876.3 212.9C879.97 212.92 883.38 213.32 887 213.5C890.62 213.68 894.33 214 898 214C901.67 214 905.38 213.68 909 213.5C912.62 213.32 916.03 212.92 919.7 212.9C923.37 212.88 927.5 213.22 931 213.4C934.5 213.58 937.53 213.9 940.7 214C943.87 214.1 948.45 214 950 214" stroke="#ff0000"/>
<path d="M846 217.5C847.55 217.43 852.13 216.93 855.3 217.1C858.47 217.27 861.5 217.97 865 218.5C868.5 219.03 872.63 219.72 876.3 220.3C879.97 220.88 883.48 221.48 887 222C890.52 222.52 895.57 223.17 897.4 223.4C899.23 223.63 897.8 223.4 898 223.4C898.2 223.4 896.77 223.63 898.6 223.4C900.43 223.17 905.48 222.52 909 222C912.52 221.48 916.03 220.88 919.7 220.3C923.37 219.72 927.5 219.03 931 218.5C934.5 217.97 937.53 217.27 940.7 217.1C943.87 216.93 948.45 217.43 950 217.5" stroke="#ff0000"/>
<path d="M845.8 238.2C846.75 237.75 849.57 236.38 851.5 235.5C853.43 234.62 855.4 232.9 857.4 232.9C859.4 232.9 861.4 234.62 863.5 235.5C865.6 236.38 868.08 237.45 870 238.2C871.92 238.95 873.25 239.48 875 240C876.75 240.52 876.67 241.08 880.5 241.3C884.33 241.52 892.17 241.3 898 241.3C903.83 241.3 911.67 241.52 915.5 241.3C919.33 241.08 919.25 240.52 921 240C922.75 239.48 924.08 238.95 926 238.2C927.92 237.45 930.4 236.38 932.5 235.5C934.6 234.62 936.6 232.9 938.6 232.9C940.6 232.9 942.57 234.62 944.5 235.5C946.43 236.38 949.25 237.75 950.2 238.2" stroke="#ff0000"/>
<path d="M846.8 264.8C847.5 265.08 849.58 265.85 851 266.5C852.42 267.15 853.53 267.87 855.3 268.7C857.07 269.53 859.5 270.63 861.6 271.5C863.7 272.37 865.83 272.65 867.9 273.9C869.97 275.15 871.9 277.23 874 279C876.1 280.77 878.72 283.25 880.5 284.5C882.28 285.75 883.3 285.98 884.7 286.5C886.1 287.02 886.68 287.42 888.9 287.6C891.12 287.78 894.97 287.6 898 287.6C901.03 287.6 904.88 287.78 907.1 287.6C909.32 287.42 909.9 287.02 911.3 286.5C912.7 285.98 913.72 285.75 915.5 284.5C917.28 283.25 919.9 280.77 922 279C924.1 277.23 926.03 275.15 928.1 273.9C930.17 272.65 932.3 272.37 934.4 271.5C936.5 270.63 938.93 269.53 940.7 268.7C942.47 267.87 943.58 267.15 945 266.5C946.42 265.85 948.5 265.08 949.2 264.8" stroke="#ff0000"/>
<path d="M846.8 267.6C847.5 267.75 849.58 267.93 851 268.5C852.42 269.07 853.53 270.27 855.3 271C857.07 271.73 859.4 271.82 861.6 272.9C863.8 273.98 866.05 275.92 868.5 277.5C870.95 279.08 874.38 281.07 876.3 282.4C878.22 283.73 878.6 284.63 880 285.5C881.4 286.37 883.03 287.18 884.7 287.6C886.37 288.02 889.12 287.93 890 288" stroke="#ff0000"/>
<path d="M949.2 267.6C948.5 267.75 946.42 267.93 945 268.5C943.58 269.07 942.47 270.27 940.7 271C938.93 271.73 936.6 271.82 934.4 272.9C932.2 273.98 929.95 275.92 927.5 277.5C925.05 279.08 921.62 281.07 919.7 282.4C917.78 283.73 917.4 284.63 916 285.5C914.6 286.37 912.97 287.18 911.3 287.6C909.63 288.02 906.88 287.93 906 288" stroke="#ff0000"/>
<path d="M846.5 275C847.25 275.5 849.53 276.42 851 278C852.47 279.58 853.8 282.58 855.3 284.5C856.8 286.42 858.55 288.12 860 289.5C861.45 290.88 862.68 292.07 864 292.8C865.32 293.53 866.65 294.2 867.9 293.9C869.15 293.6 870.32 292.4 871.5 291C872.68 289.6 873.5 288.33 875 285.5C876.5 282.67 878.92 276.92 880.5 274C882.08 271.08 883.1 269.58 884.5 268C885.9 266.42 886.65 265.08 888.9 264.5C891.15 263.92 894.97 264.5 898 264.5C901.03 264.5 904.85 263.92 907.1 264.5C909.35 265.08 910.1 266.42 911.5 268C912.9 269.58 913.92 271.08 915.5 274C917.08 276.92 919.5 282.67 921 285.5C922.5 288.33 923.32 289.6 924.5 291C925.68 292.4 926.85 293.6 928.1 293.9C929.35 294.2 930.68 293.53 932 292.8C933.32 292.07 934.55 290.88 936 289.5C937.45 288.12 939.2 286.42 940.7 284.5C942.2 282.58 943.53 279.58 945 278C946.47 276.42 948.75 275.5 949.5 275" stroke="#ff0000"/>
<path d="M846.5 276.5C847.25 276.92 849.53 277.67 851 279C852.47 280.33 853.8 282.17 855.3 284.5C856.8 286.83 858.38 290.33 860 293C861.62 295.67 863.33 298.58 865 300.5C866.67 302.42 868.5 304.33 870 304.5C871.5 304.67 872.75 303.08 874 301.5C875.25 299.92 876.42 297.17 877.5 295C878.58 292.83 879.42 290.5 880.5 288.5C881.58 286.5 882.75 284.37 884 283C885.25 281.63 886.83 280.83 888 280.3C889.17 279.77 889.33 279.88 891 279.8C892.67 279.72 895.67 279.8 898 279.8C900.33 279.8 903.33 279.72 905 279.8C906.67 279.88 906.83 279.77 908 280.3C909.17 280.83 910.75 281.63 912 283C913.25 284.37 914.42 286.5 915.5 288.5C916.58 290.5 917.42 292.83 918.5 295C919.58 297.17 920.75 299.92 922 301.5C923.25 303.08 924.5 304.67 926 304.5C927.5 304.33 929.33 302.42 931 300.5C932.67 298.58 934.38 295.67 936 293C937.62 290.33 939.2 286.83 940.7 284.5C942.2 282.17 943.53 280.33 945 279C946.47 277.67 948.75 276.92 949.5 276.5" stroke="#ff0000"/>
<path d="M846.2 322.6C846.83 323 848.65 323.92 850 325C851.35 326.08 852.97 327.27 854.3 329.1C855.63 330.93 856.67 333.33 858 336C859.33 338.67 860.92 342.18 862.3 345.1C863.68 348.02 864.97 350.82 866.3 353.5C867.63 356.18 868.93 358.87 870.3 361.2C871.67 363.53 873.15 365.98 874.5 367.5C875.85 369.02 876.82 369.67 878.4 370.3C879.98 370.93 882 371.08 884 371.3C886 371.52 888.07 371.55 890.4 371.6C892.73 371.65 895.47 371.6 898 371.6C900.53 371.6 903.27 371.65 905.6 371.6C907.93 371.55 910 371.52 912 371.3C914 371.08 916.02 370.93 917.6 370.3C919.18 369.67 920.15 369.02 921.5 367.5C922.85 365.98 924.33 363.53 925.7 361.2C927.07 358.87 928.37 356.18 929.7 353.5C931.03 350.82 932.32 348.02 933.7 345.1C935.08 342.18 936.67 338.67 938 336C939.33 333.33 940.37 330.93 941.7 329.1C943.03 327.27 944.65 326.08 946 325C947.35 323.92 949.17 323 949.8 322.6" stroke="#ff0000"/>
<path d="M846.2 332.1C847 332.83 849.32 334.67 851 336.5C852.68 338.33 854.63 340.52 856.3 343.1C857.97 345.68 859.33 348.85 861 352C862.67 355.15 864.75 359.08 866.3 362C867.85 364.92 869.1 367.42 870.3 369.5C871.5 371.58 872.43 373.22 873.5 374.5C874.57 375.78 875.78 376.78 876.7 377.2C877.62 377.62 878.25 377.17 879 377C879.75 376.83 880.1 376.72 881.2 376.2C882.3 375.68 884.13 374.43 885.6 373.9C887.07 373.37 887.93 373.12 890 373C892.07 372.88 895.33 373.2 898 373.2C900.67 373.2 903.93 372.88 906 373C908.07 373.12 908.93 373.37 910.4 373.9C911.87 374.43 913.7 375.68 914.8 376.2C915.9 376.72 916.25 376.83 917 377C917.75 377.17 918.38 377.62 919.3 377.2C920.22 376.78 921.43 375.78 922.5 374.5C923.57 373.22 924.5 371.58 925.7 369.5C926.9 367.42 928.15 364.92 929.7 362C931.25 359.08 933.33 355.15 935 352C936.67 348.85 938.03 345.68 939.7 343.1C941.37 340.52 943.32 338.33 945 336.5C946.68 334.67 949 332.83 949.8 332.1" stroke="#ff0000"/>
<path d="M846.2 344.7C846.83 345.08 848.65 345.93 850 347C851.35 348.07 853.08 349.1 854.3 351.1C855.52 353.1 856.3 355.98 857.3 359C858.3 362.02 859.3 365.78 860.3 369.2C861.3 372.62 862.3 376.15 863.3 379.5C864.3 382.85 865.18 386.97 866.3 389.3C867.42 391.63 868.67 392.5 870 393.5C871.33 394.5 872.63 394.8 874.3 395.3C875.97 395.8 877.98 396.17 880 396.5C882.02 396.83 883.4 397.17 886.4 397.3C889.4 397.43 894.13 397.3 898 397.3C901.87 397.3 906.6 397.43 909.6 397.3C912.6 397.17 913.98 396.83 916 396.5C918.02 396.17 920.03 395.8 921.7 395.3C923.37 394.8 924.67 394.5 926 393.5C927.33 392.5 928.58 391.63 929.7 389.3C930.82 386.97 931.7 382.85 932.7 379.5C933.7 376.15 934.7 372.62 935.7 369.2C936.7 365.78 937.7 362.02 938.7 359C939.7 355.98 940.48 353.1 941.7 351.1C942.92 349.1 944.65 348.07 946 347C947.35 345.93 949.17 345.08 949.8 344.7" stroke="#ff0000"/>
<path d="M846.2 350.7C846.75 351.08 848.5 351.92 849.5 353C850.5 354.08 851.23 355.03 852.2 357.2C853.17 359.37 854.28 363 855.3 366C856.32 369 857.3 372.2 858.3 375.2C859.3 378.2 860.3 381.32 861.3 384C862.3 386.68 863.18 389.3 864.3 391.3C865.42 393.3 866.67 394.83 868 396C869.33 397.17 870.63 397.72 872.3 398.3C873.97 398.88 875.88 399.22 878 399.5C880.12 399.78 881.67 399.92 885 400C888.33 400.08 893.67 400 898 400C902.33 400 907.67 400.08 911 400C914.33 399.92 915.88 399.78 918 399.5C920.12 399.22 922.03 398.88 923.7 398.3C925.37 397.72 926.67 397.17 928 396C929.33 394.83 930.58 393.3 931.7 391.3C932.82 389.3 933.7 386.68 934.7 384C935.7 381.32 936.7 378.2 937.7 375.2C938.7 372.2 939.68 369 940.7 366C941.72 363 942.83 359.37 943.8 357.2C944.77 355.03 945.5 354.08 946.5 353C947.5 351.92 949.25 351.08 949.8 350.7" stroke="#ff0000"/>
<path d="M864 397.5C864.67 397.33 866.62 397 868 396.5C869.38 396 870.97 395.17 872.3 394.5C873.63 393.83 874.88 393.08 876 392.5C877.12 391.92 878.13 391.5 879 391C879.87 390.5 880.2 390.25 881.2 389.5C882.2 388.75 883.7 387.25 885 386.5C886.3 385.75 887.5 385.33 889 385C890.5 384.67 892.5 384.58 894 384.5C895.5 384.42 896.67 384.5 898 384.5C899.33 384.5 900.5 384.42 902 384.5C903.5 384.58 905.5 384.67 907 385C908.5 385.33 909.7 385.75 911 386.5C912.3 387.25 913.8 388.75 914.8 389.5C915.8 390.25 916.13 390.5 917 391C917.87 391.5 918.88 391.92 920 392.5C921.12 393.08 922.37 393.83 923.7 394.5C925.03 395.17 926.62 396 928 396.5C929.38 397 931.33 397.33 932 397.5" stroke="#ff0000"/>
<path d="M865 405C865.42 404.55 866.58 402.92 867.5 402.3C868.42 401.68 869.5 401.3 870.5 401.3C871.5 401.3 872.58 401.68 873.5 402.3C874.42 402.92 875.58 404.55 876 405" stroke="#ff0000"/>
<path d="M931 405C930.58 404.55 929.42 402.92 928.5 402.3C927.58 401.68 926.5 401.3 925.5 401.3C924.5 401.3 923.42 401.68 922.5 402.3C921.58 402.92 920.42 404.55 920 405" stroke="#ff0000"/>
<line x1="563.9" y1="215.6" x2="949.4" y2="215.6" stroke="#008000" stroke-width="1.5"/>
</g>
<rect x="563.9" y="27.1" width="385.50" height="377.00" fill="none" stroke="#000" stroke-width="1.1"/>
<line x1="559.3" y1="404.10" x2="563.9" y2="404.10" stroke="#000" stroke-width="1.1"/>
<text x="505.76" y="412.10" font-size="22.3" textLength="50.02" lengthAdjust="spacingAndGlyphs">−2.0</text>
<line x1="559.3" y1="356.98" x2="563.9" y2="356.98" stroke="#000" stroke-width="1.1"/>
<text x="505.76" y="364.98" font-size="22.3" textLength="50.02" lengthAdjust="spacingAndGlyphs">−1.5</text>
<line x1="559.3" y1="309.85" x2="563.9" y2="309.85" stroke="#000" stroke-width="1.1"/>
<text x="505.76" y="317.85" font-size="22.3" textLength="50.02" lengthAdjust="spacingAndGlyphs">−1.0</text>
<line x1="559.3" y1="262.73" x2="563.9" y2="262.73" stroke="#000" stroke-width="1.1"/>
<text x="505.76" y="270.73" font-size="22.3" textLength="50.02" lengthAdjust="spacingAndGlyphs">−0.5</text>
<line x1="559.3" y1="215.60" x2="563.9" y2="215.60" stroke="#000" stroke-width="1.1"/>
<text x="522.31" y="223.60" font-size="22.3" textLength="33.70" lengthAdjust="spacingAndGlyphs">0.0</text>
<line x1="559.3" y1="168.47" x2="563.9" y2="168.47" stroke="#000" stroke-width="1.1"/>
<text x="522.31" y="176.47" font-size="22.3" textLength="33.70" lengthAdjust="spacingAndGlyphs">0.5</text>
<line x1="559.3" y1="121.35" x2="563.9" y2="121.35" stroke="#000" stroke-width="1.1"/>
<text x="522.31" y="129.35" font-size="22.3" textLength="33.70" lengthAdjust="spacingAndGlyphs">1.0</text>
<line x1="559.3" y1="74.22" x2="563.9" y2="74.22" stroke="#000" stroke-width="1.1"/>
<text x="522.31" y="82.22" font-size="22.3" textLength="33.70" lengthAdjust="spacingAndGlyphs">1.5</text>
<line x1="559.3" y1="27.10" x2="563.9" y2="27.10" stroke="#000" stroke-width="1.1"/>
<text x="522.31" y="35.10" font-size="22.3" textLength="33.70" lengthAdjust="spacingAndGlyphs">2.0</text>
<line x1="564.0" y1="404.1" x2="564.0" y2="408.70000000000005" stroke="#000" stroke-width="1.1"/>
<text x="557.16" y="427.90" font-size="22.3" textLength="12.90" lengthAdjust="spacingAndGlyphs">Γ</text>
<line x1="601.3" y1="404.1" x2="601.3" y2="408.70000000000005" stroke="#000" stroke-width="1.1"/>
<text x="594.33" y="428.30" font-size="22.3" textLength="14.06" lengthAdjust="spacingAndGlyphs">Y</text>
<line x1="640.8" y1="404.1" x2="640.8" y2="408.70000000000005" stroke="#000" stroke-width="1.1"/>
<text x="635.73" y="428.30" font-size="22.3" textLength="10.65" lengthAdjust="spacingAndGlyphs">F</text>
<line x1="734.9" y1="404.1" x2="734.9" y2="408.70000000000005" stroke="#000" stroke-width="1.1"/>
<text x="727.55" y="428.30" font-size="22.3" textLength="15.21" lengthAdjust="spacingAndGlyphs">H</text>
<line x1="751.3" y1="404.1" x2="751.3" y2="408.70000000000005" stroke="#000" stroke-width="1.1"/>
<text x="744.12" y="428.30" font-size="22.3" textLength="14.24" lengthAdjust="spacingAndGlyphs">Z</text>
<line x1="845.8" y1="404.1" x2="845.8" y2="408.70000000000005" stroke="#000" stroke-width="1.1"/>
<text x="842.19" y="428.20" font-size="22.3" textLength="7.17" lengthAdjust="spacingAndGlyphs">I</text>
<line x1="902.4" y1="404.1" x2="902.4" y2="408.70000000000005" stroke="#000" stroke-width="1.1"/>
<text x="891.38" y="427.90" font-size="22.3" textLength="21.29" lengthAdjust="spacingAndGlyphs"><tspan font-style="italic">F</tspan><tspan font-size="15.6" dy="2.8">1</tspan></text>
<text transform="translate(496.0,277.62) rotate(-90)" x="0" y="0" font-size="22.3" textLength="123.85" lengthAdjust="spacingAndGlyphs">Energy (eV)</text>
<text x="663.58" y="19.00" font-size="26.6" textLength="184.42" lengthAdjust="spacingAndGlyphs">(b) VAg(PSe<tspan font-size="18.6" dy="4">3</tspan><tspan dy="-4">)</tspan><tspan font-size="18.6" dy="4">2</tspan></text>
<rect x="751.9" y="109.2" width="195.6" height="68.4" rx="3.1" ry="3.1" fill="#fff" fill-opacity="0.8" stroke="#cccccc" stroke-width="1.1"/>
<line x1="759.6" y1="126.6" x2="803" y2="126.6" stroke="#0000ff" stroke-width="2"/>
<line x1="759.6" y1="157.6" x2="803" y2="157.6" stroke="#ff0000" stroke-width="2"/>
<text x="819.12" y="133.20" font-size="22.3" textLength="119.96" lengthAdjust="spacingAndGlyphs">G<tspan font-size="15.6" dy="3.1">0</tspan><tspan dy="-3.1">W</tspan><tspan font-size="15.6" dy="3.1">0</tspan><tspan dy="-3.1">+SOC</tspan></text>
<text x="819.81" y="165.00" font-size="22.3" textLength="102.53" lengthAdjust="spacingAndGlyphs">PBE+SOC</text>
</svg>
</body></html>
